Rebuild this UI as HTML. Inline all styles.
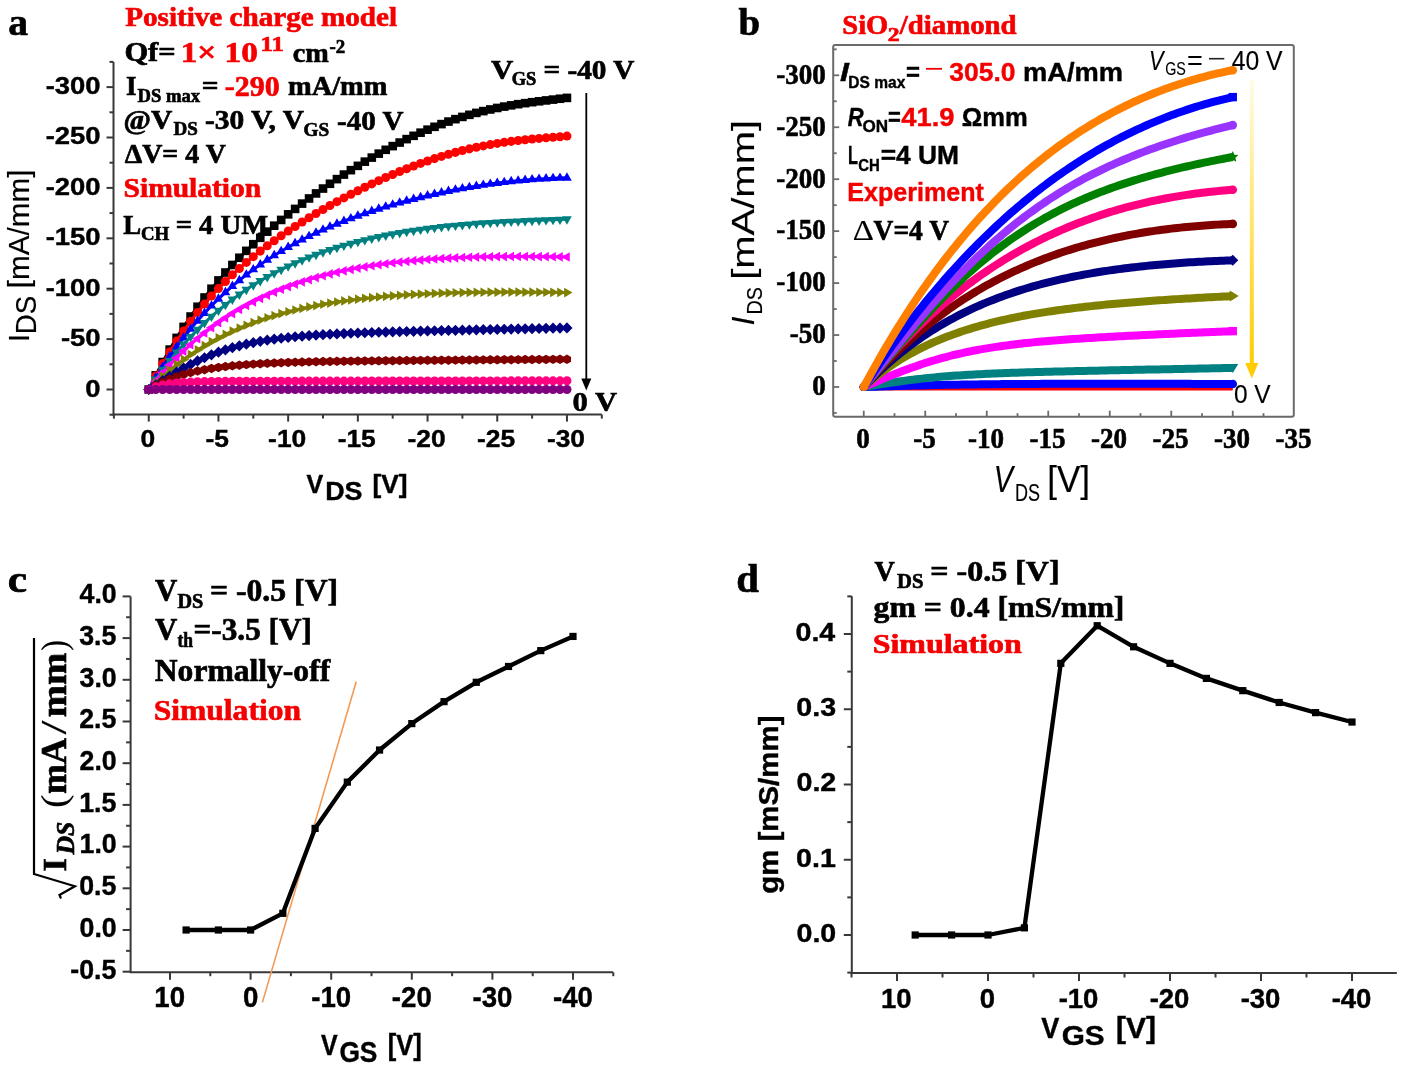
<!DOCTYPE html><html><head><meta charset="utf-8"><style>html,body{margin:0;padding:0;background:#fff;overflow:hidden;}svg{display:block;filter:blur(0.7px);}</style></head><body>
<svg width="1402" height="1070" viewBox="0 0 1402 1070">
<rect width="100%" height="100%" fill="#fff"/>
<defs>
<rect id="mSq" x="-4.30" y="-4.30" width="8.60" height="8.60"/>
<circle id="mCi" r="4.51"/>
<polygon id="mTu" points="0.00,-5.59 4.84,2.79 -4.84,2.79"/>
<polygon id="mTd" points="0.00,5.59 -4.84,-2.80 4.84,-2.80"/>
<polygon id="mTl" points="-5.59,0.00 2.80,-4.84 2.79,4.84"/>
<polygon id="mTr" points="5.59,0.00 -2.79,4.84 -2.80,-4.84"/>
<polygon id="mDi" points="0,-5.59 5.59,0 0,5.59 -5.59,0"/>
<polygon id="mHx" points="4.10,2.36 0.00,4.73 -4.10,2.36 -4.10,-2.37 -0.00,-4.73 4.10,-2.37"/>
<rect id="mS2" x="-3.6" y="-3.6" width="7.2" height="7.2"/>
<linearGradient id="gold" x1="0" y1="0" x2="0" y2="1"><stop offset="0" stop-color="#fffbe8"/><stop offset="0.35" stop-color="#ffec90"/><stop offset="1" stop-color="#ffcc00"/></linearGradient>
</defs>
<g stroke="#383838" stroke-width="2" fill="none">
<path d="M113.5,62 V414.6 H601.8"/>
<path d="M113.50,414.70 h-4.00"/>
<path d="M113.50,389.50 h-7.00"/>
<path d="M113.50,364.30 h-4.00"/>
<path d="M113.50,339.10 h-7.00"/>
<path d="M113.50,313.90 h-4.00"/>
<path d="M113.50,288.70 h-7.00"/>
<path d="M113.50,263.50 h-4.00"/>
<path d="M113.50,238.30 h-7.00"/>
<path d="M113.50,213.10 h-4.00"/>
<path d="M113.50,187.90 h-7.00"/>
<path d="M113.50,162.70 h-4.00"/>
<path d="M113.50,137.50 h-7.00"/>
<path d="M113.50,112.30 h-4.00"/>
<path d="M113.50,87.10 h-7.00"/>
<path d="M113.50,61.90 h-4.00"/>
<path d="M113.90,414.60 v4.00"/>
<path d="M148.75,414.60 v7.00"/>
<path d="M183.60,414.60 v4.00"/>
<path d="M218.45,414.60 v7.00"/>
<path d="M253.30,414.60 v4.00"/>
<path d="M288.15,414.60 v7.00"/>
<path d="M323.00,414.60 v4.00"/>
<path d="M357.85,414.60 v7.00"/>
<path d="M392.70,414.60 v4.00"/>
<path d="M427.55,414.60 v7.00"/>
<path d="M462.40,414.60 v4.00"/>
<path d="M497.25,414.60 v7.00"/>
<path d="M532.10,414.60 v4.00"/>
<path d="M566.95,414.60 v7.00"/>
<path d="M601.80,414.60 v4.00"/>
</g>
<polyline points="148.75,389.50 155.72,375.32 162.69,362.04 169.66,349.58 176.63,337.88 183.60,326.88 190.57,316.52 197.54,306.74 204.51,297.50 211.48,288.74 218.45,280.43 225.42,272.52 232.39,264.97 239.36,257.76 246.33,250.85 253.30,244.21 260.27,237.82 267.24,231.66 274.21,225.70 281.18,219.93 288.15,214.33 295.12,208.90 302.09,203.61 309.06,198.46 316.03,193.44 323.00,188.55 329.97,183.77 336.94,179.12 343.91,174.58 350.88,170.16 357.85,165.85 364.82,161.66 371.79,157.59 378.76,153.64 385.73,149.81 392.70,146.11 399.67,142.55 406.64,139.12 413.61,135.82 420.58,132.67 427.55,129.67 434.52,126.81 441.49,124.11 448.46,121.56 455.43,119.16 462.40,116.92 469.37,114.83 476.34,112.89 483.31,111.11 490.28,109.46 497.25,107.96 504.22,106.59 511.19,105.34 518.16,104.19 525.13,103.15 532.10,102.19 539.07,101.29 546.04,100.43 553.01,99.60 559.98,98.76 566.95,97.89" fill="none" stroke="#000000" stroke-width="3"/>
<g fill="#000000">
<use href="#mSq" x="148.75" y="389.50"/>
<use href="#mSq" x="155.72" y="375.32"/>
<use href="#mSq" x="162.69" y="362.04"/>
<use href="#mSq" x="169.66" y="349.58"/>
<use href="#mSq" x="176.63" y="337.88"/>
<use href="#mSq" x="183.60" y="326.88"/>
<use href="#mSq" x="190.57" y="316.52"/>
<use href="#mSq" x="197.54" y="306.74"/>
<use href="#mSq" x="204.51" y="297.50"/>
<use href="#mSq" x="211.48" y="288.74"/>
<use href="#mSq" x="218.45" y="280.43"/>
<use href="#mSq" x="225.42" y="272.52"/>
<use href="#mSq" x="232.39" y="264.97"/>
<use href="#mSq" x="239.36" y="257.76"/>
<use href="#mSq" x="246.33" y="250.85"/>
<use href="#mSq" x="253.30" y="244.21"/>
<use href="#mSq" x="260.27" y="237.82"/>
<use href="#mSq" x="267.24" y="231.66"/>
<use href="#mSq" x="274.21" y="225.70"/>
<use href="#mSq" x="281.18" y="219.93"/>
<use href="#mSq" x="288.15" y="214.33"/>
<use href="#mSq" x="295.12" y="208.90"/>
<use href="#mSq" x="302.09" y="203.61"/>
<use href="#mSq" x="309.06" y="198.46"/>
<use href="#mSq" x="316.03" y="193.44"/>
<use href="#mSq" x="323.00" y="188.55"/>
<use href="#mSq" x="329.97" y="183.77"/>
<use href="#mSq" x="336.94" y="179.12"/>
<use href="#mSq" x="343.91" y="174.58"/>
<use href="#mSq" x="350.88" y="170.16"/>
<use href="#mSq" x="357.85" y="165.85"/>
<use href="#mSq" x="364.82" y="161.66"/>
<use href="#mSq" x="371.79" y="157.59"/>
<use href="#mSq" x="378.76" y="153.64"/>
<use href="#mSq" x="385.73" y="149.81"/>
<use href="#mSq" x="392.70" y="146.11"/>
<use href="#mSq" x="399.67" y="142.55"/>
<use href="#mSq" x="406.64" y="139.12"/>
<use href="#mSq" x="413.61" y="135.82"/>
<use href="#mSq" x="420.58" y="132.67"/>
<use href="#mSq" x="427.55" y="129.67"/>
<use href="#mSq" x="434.52" y="126.81"/>
<use href="#mSq" x="441.49" y="124.11"/>
<use href="#mSq" x="448.46" y="121.56"/>
<use href="#mSq" x="455.43" y="119.16"/>
<use href="#mSq" x="462.40" y="116.92"/>
<use href="#mSq" x="469.37" y="114.83"/>
<use href="#mSq" x="476.34" y="112.89"/>
<use href="#mSq" x="483.31" y="111.11"/>
<use href="#mSq" x="490.28" y="109.46"/>
<use href="#mSq" x="497.25" y="107.96"/>
<use href="#mSq" x="504.22" y="106.59"/>
<use href="#mSq" x="511.19" y="105.34"/>
<use href="#mSq" x="518.16" y="104.19"/>
<use href="#mSq" x="525.13" y="103.15"/>
<use href="#mSq" x="532.10" y="102.19"/>
<use href="#mSq" x="539.07" y="101.29"/>
<use href="#mSq" x="546.04" y="100.43"/>
<use href="#mSq" x="553.01" y="99.60"/>
<use href="#mSq" x="559.98" y="98.76"/>
<use href="#mSq" x="566.95" y="97.89"/>
</g>
<polyline points="148.75,389.50 155.72,376.11 162.69,363.63 169.66,351.97 176.63,341.08 183.60,330.89 190.57,321.35 197.54,312.40 204.51,303.98 211.48,296.06 218.45,288.59 225.42,281.52 232.39,274.83 239.36,268.47 246.33,262.42 253.30,256.64 260.27,251.12 267.24,245.82 274.21,240.72 281.18,235.81 288.15,231.07 295.12,226.49 302.09,222.05 309.06,217.74 316.03,213.55 323.00,209.48 329.97,205.52 336.94,201.66 343.91,197.91 350.88,194.26 357.85,190.71 364.82,187.25 371.79,183.90 378.76,180.65 385.73,177.50 392.70,174.46 399.67,171.53 406.64,168.71 413.61,166.01 420.58,163.42 427.55,160.96 434.52,158.62 441.49,156.41 448.46,154.33 455.43,152.38 462.40,150.56 469.37,148.87 476.34,147.31 483.31,145.89 490.28,144.58 497.25,143.40 504.22,142.33 511.19,141.37 518.16,140.51 525.13,139.74 532.10,139.05 539.07,138.41 546.04,137.82 553.01,137.25 559.98,136.69 566.95,136.11" fill="none" stroke="#ff0000" stroke-width="3"/>
<g fill="#ff0000">
<use href="#mCi" x="148.75" y="389.50"/>
<use href="#mCi" x="155.72" y="376.11"/>
<use href="#mCi" x="162.69" y="363.63"/>
<use href="#mCi" x="169.66" y="351.97"/>
<use href="#mCi" x="176.63" y="341.08"/>
<use href="#mCi" x="183.60" y="330.89"/>
<use href="#mCi" x="190.57" y="321.35"/>
<use href="#mCi" x="197.54" y="312.40"/>
<use href="#mCi" x="204.51" y="303.98"/>
<use href="#mCi" x="211.48" y="296.06"/>
<use href="#mCi" x="218.45" y="288.59"/>
<use href="#mCi" x="225.42" y="281.52"/>
<use href="#mCi" x="232.39" y="274.83"/>
<use href="#mCi" x="239.36" y="268.47"/>
<use href="#mCi" x="246.33" y="262.42"/>
<use href="#mCi" x="253.30" y="256.64"/>
<use href="#mCi" x="260.27" y="251.12"/>
<use href="#mCi" x="267.24" y="245.82"/>
<use href="#mCi" x="274.21" y="240.72"/>
<use href="#mCi" x="281.18" y="235.81"/>
<use href="#mCi" x="288.15" y="231.07"/>
<use href="#mCi" x="295.12" y="226.49"/>
<use href="#mCi" x="302.09" y="222.05"/>
<use href="#mCi" x="309.06" y="217.74"/>
<use href="#mCi" x="316.03" y="213.55"/>
<use href="#mCi" x="323.00" y="209.48"/>
<use href="#mCi" x="329.97" y="205.52"/>
<use href="#mCi" x="336.94" y="201.66"/>
<use href="#mCi" x="343.91" y="197.91"/>
<use href="#mCi" x="350.88" y="194.26"/>
<use href="#mCi" x="357.85" y="190.71"/>
<use href="#mCi" x="364.82" y="187.25"/>
<use href="#mCi" x="371.79" y="183.90"/>
<use href="#mCi" x="378.76" y="180.65"/>
<use href="#mCi" x="385.73" y="177.50"/>
<use href="#mCi" x="392.70" y="174.46"/>
<use href="#mCi" x="399.67" y="171.53"/>
<use href="#mCi" x="406.64" y="168.71"/>
<use href="#mCi" x="413.61" y="166.01"/>
<use href="#mCi" x="420.58" y="163.42"/>
<use href="#mCi" x="427.55" y="160.96"/>
<use href="#mCi" x="434.52" y="158.62"/>
<use href="#mCi" x="441.49" y="156.41"/>
<use href="#mCi" x="448.46" y="154.33"/>
<use href="#mCi" x="455.43" y="152.38"/>
<use href="#mCi" x="462.40" y="150.56"/>
<use href="#mCi" x="469.37" y="148.87"/>
<use href="#mCi" x="476.34" y="147.31"/>
<use href="#mCi" x="483.31" y="145.89"/>
<use href="#mCi" x="490.28" y="144.58"/>
<use href="#mCi" x="497.25" y="143.40"/>
<use href="#mCi" x="504.22" y="142.33"/>
<use href="#mCi" x="511.19" y="141.37"/>
<use href="#mCi" x="518.16" y="140.51"/>
<use href="#mCi" x="525.13" y="139.74"/>
<use href="#mCi" x="532.10" y="139.05"/>
<use href="#mCi" x="539.07" y="138.41"/>
<use href="#mCi" x="546.04" y="137.82"/>
<use href="#mCi" x="553.01" y="137.25"/>
<use href="#mCi" x="559.98" y="136.69"/>
<use href="#mCi" x="566.95" y="136.11"/>
</g>
<polyline points="148.75,389.50 155.72,377.92 162.69,366.99 169.66,356.67 176.63,346.93 183.60,337.74 190.57,329.05 197.54,320.85 204.51,313.11 211.48,305.80 218.45,298.89 225.42,292.36 232.39,286.18 239.36,280.34 246.33,274.82 253.30,269.58 260.27,264.62 267.24,259.92 274.21,255.46 281.18,251.23 288.15,247.20 295.12,243.37 302.09,239.73 309.06,236.25 316.03,232.94 323.00,229.78 329.97,226.76 336.94,223.88 343.91,221.11 350.88,218.47 357.85,215.94 364.82,213.51 371.79,211.18 378.76,208.95 385.73,206.81 392.70,204.76 399.67,202.79 406.64,200.90 413.61,199.09 420.58,197.35 427.55,195.70 434.52,194.11 441.49,192.60 448.46,191.16 455.43,189.80 462.40,188.50 469.37,187.28 476.34,186.13 483.31,185.05 490.28,184.04 497.25,183.11 504.22,182.25 511.19,181.46 518.16,180.75 525.13,180.11 532.10,179.55 539.07,179.06 546.04,178.64 553.01,178.30 559.98,178.03 566.95,177.84" fill="none" stroke="#0000ff" stroke-width="3"/>
<g fill="#0000ff">
<use href="#mTu" x="148.75" y="389.50"/>
<use href="#mTu" x="155.72" y="377.92"/>
<use href="#mTu" x="162.69" y="366.99"/>
<use href="#mTu" x="169.66" y="356.67"/>
<use href="#mTu" x="176.63" y="346.93"/>
<use href="#mTu" x="183.60" y="337.74"/>
<use href="#mTu" x="190.57" y="329.05"/>
<use href="#mTu" x="197.54" y="320.85"/>
<use href="#mTu" x="204.51" y="313.11"/>
<use href="#mTu" x="211.48" y="305.80"/>
<use href="#mTu" x="218.45" y="298.89"/>
<use href="#mTu" x="225.42" y="292.36"/>
<use href="#mTu" x="232.39" y="286.18"/>
<use href="#mTu" x="239.36" y="280.34"/>
<use href="#mTu" x="246.33" y="274.82"/>
<use href="#mTu" x="253.30" y="269.58"/>
<use href="#mTu" x="260.27" y="264.62"/>
<use href="#mTu" x="267.24" y="259.92"/>
<use href="#mTu" x="274.21" y="255.46"/>
<use href="#mTu" x="281.18" y="251.23"/>
<use href="#mTu" x="288.15" y="247.20"/>
<use href="#mTu" x="295.12" y="243.37"/>
<use href="#mTu" x="302.09" y="239.73"/>
<use href="#mTu" x="309.06" y="236.25"/>
<use href="#mTu" x="316.03" y="232.94"/>
<use href="#mTu" x="323.00" y="229.78"/>
<use href="#mTu" x="329.97" y="226.76"/>
<use href="#mTu" x="336.94" y="223.88"/>
<use href="#mTu" x="343.91" y="221.11"/>
<use href="#mTu" x="350.88" y="218.47"/>
<use href="#mTu" x="357.85" y="215.94"/>
<use href="#mTu" x="364.82" y="213.51"/>
<use href="#mTu" x="371.79" y="211.18"/>
<use href="#mTu" x="378.76" y="208.95"/>
<use href="#mTu" x="385.73" y="206.81"/>
<use href="#mTu" x="392.70" y="204.76"/>
<use href="#mTu" x="399.67" y="202.79"/>
<use href="#mTu" x="406.64" y="200.90"/>
<use href="#mTu" x="413.61" y="199.09"/>
<use href="#mTu" x="420.58" y="197.35"/>
<use href="#mTu" x="427.55" y="195.70"/>
<use href="#mTu" x="434.52" y="194.11"/>
<use href="#mTu" x="441.49" y="192.60"/>
<use href="#mTu" x="448.46" y="191.16"/>
<use href="#mTu" x="455.43" y="189.80"/>
<use href="#mTu" x="462.40" y="188.50"/>
<use href="#mTu" x="469.37" y="187.28"/>
<use href="#mTu" x="476.34" y="186.13"/>
<use href="#mTu" x="483.31" y="185.05"/>
<use href="#mTu" x="490.28" y="184.04"/>
<use href="#mTu" x="497.25" y="183.11"/>
<use href="#mTu" x="504.22" y="182.25"/>
<use href="#mTu" x="511.19" y="181.46"/>
<use href="#mTu" x="518.16" y="180.75"/>
<use href="#mTu" x="525.13" y="180.11"/>
<use href="#mTu" x="532.10" y="179.55"/>
<use href="#mTu" x="539.07" y="179.06"/>
<use href="#mTu" x="546.04" y="178.64"/>
<use href="#mTu" x="553.01" y="178.30"/>
<use href="#mTu" x="559.98" y="178.03"/>
<use href="#mTu" x="566.95" y="177.84"/>
</g>
<polyline points="148.75,389.50 155.72,379.41 162.69,369.88 169.66,360.88 176.63,352.37 183.60,344.34 190.57,336.76 197.54,329.60 204.51,322.84 211.48,316.47 218.45,310.45 225.42,304.77 232.39,299.42 239.36,294.37 246.33,289.61 253.30,285.11 260.27,280.87 267.24,276.88 274.21,273.11 281.18,269.56 288.15,266.21 295.12,263.05 302.09,260.07 309.06,257.27 316.03,254.63 323.00,252.13 329.97,249.79 336.94,247.58 343.91,245.50 350.88,243.54 357.85,241.70 364.82,239.97 371.79,238.35 378.76,236.83 385.73,235.40 392.70,234.06 399.67,232.80 406.64,231.63 413.61,230.54 420.58,229.52 427.55,228.58 434.52,227.70 441.49,226.88 448.46,226.13 455.43,225.43 462.40,224.79 469.37,224.20 476.34,223.65 483.31,223.16 490.28,222.70 497.25,222.28 504.22,221.89 511.19,221.53 518.16,221.20 525.13,220.89 532.10,220.60 539.07,220.31 546.04,220.03 553.01,219.75 559.98,219.47 566.95,219.17" fill="none" stroke="#008080" stroke-width="3"/>
<g fill="#008080">
<use href="#mTd" x="148.75" y="389.50"/>
<use href="#mTd" x="155.72" y="379.41"/>
<use href="#mTd" x="162.69" y="369.88"/>
<use href="#mTd" x="169.66" y="360.88"/>
<use href="#mTd" x="176.63" y="352.37"/>
<use href="#mTd" x="183.60" y="344.34"/>
<use href="#mTd" x="190.57" y="336.76"/>
<use href="#mTd" x="197.54" y="329.60"/>
<use href="#mTd" x="204.51" y="322.84"/>
<use href="#mTd" x="211.48" y="316.47"/>
<use href="#mTd" x="218.45" y="310.45"/>
<use href="#mTd" x="225.42" y="304.77"/>
<use href="#mTd" x="232.39" y="299.42"/>
<use href="#mTd" x="239.36" y="294.37"/>
<use href="#mTd" x="246.33" y="289.61"/>
<use href="#mTd" x="253.30" y="285.11"/>
<use href="#mTd" x="260.27" y="280.87"/>
<use href="#mTd" x="267.24" y="276.88"/>
<use href="#mTd" x="274.21" y="273.11"/>
<use href="#mTd" x="281.18" y="269.56"/>
<use href="#mTd" x="288.15" y="266.21"/>
<use href="#mTd" x="295.12" y="263.05"/>
<use href="#mTd" x="302.09" y="260.07"/>
<use href="#mTd" x="309.06" y="257.27"/>
<use href="#mTd" x="316.03" y="254.63"/>
<use href="#mTd" x="323.00" y="252.13"/>
<use href="#mTd" x="329.97" y="249.79"/>
<use href="#mTd" x="336.94" y="247.58"/>
<use href="#mTd" x="343.91" y="245.50"/>
<use href="#mTd" x="350.88" y="243.54"/>
<use href="#mTd" x="357.85" y="241.70"/>
<use href="#mTd" x="364.82" y="239.97"/>
<use href="#mTd" x="371.79" y="238.35"/>
<use href="#mTd" x="378.76" y="236.83"/>
<use href="#mTd" x="385.73" y="235.40"/>
<use href="#mTd" x="392.70" y="234.06"/>
<use href="#mTd" x="399.67" y="232.80"/>
<use href="#mTd" x="406.64" y="231.63"/>
<use href="#mTd" x="413.61" y="230.54"/>
<use href="#mTd" x="420.58" y="229.52"/>
<use href="#mTd" x="427.55" y="228.58"/>
<use href="#mTd" x="434.52" y="227.70"/>
<use href="#mTd" x="441.49" y="226.88"/>
<use href="#mTd" x="448.46" y="226.13"/>
<use href="#mTd" x="455.43" y="225.43"/>
<use href="#mTd" x="462.40" y="224.79"/>
<use href="#mTd" x="469.37" y="224.20"/>
<use href="#mTd" x="476.34" y="223.65"/>
<use href="#mTd" x="483.31" y="223.16"/>
<use href="#mTd" x="490.28" y="222.70"/>
<use href="#mTd" x="497.25" y="222.28"/>
<use href="#mTd" x="504.22" y="221.89"/>
<use href="#mTd" x="511.19" y="221.53"/>
<use href="#mTd" x="518.16" y="221.20"/>
<use href="#mTd" x="525.13" y="220.89"/>
<use href="#mTd" x="532.10" y="220.60"/>
<use href="#mTd" x="539.07" y="220.31"/>
<use href="#mTd" x="546.04" y="220.03"/>
<use href="#mTd" x="553.01" y="219.75"/>
<use href="#mTd" x="559.98" y="219.47"/>
<use href="#mTd" x="566.95" y="219.17"/>
</g>
<polyline points="148.75,389.50 155.72,380.88 162.69,372.75 169.66,365.10 176.63,357.89 183.60,351.10 190.57,344.71 197.54,338.69 204.51,333.02 211.48,327.69 218.45,322.68 225.42,317.97 232.39,313.54 239.36,309.38 246.33,305.47 253.30,301.80 260.27,298.36 267.24,295.13 274.21,292.10 281.18,289.27 288.15,286.61 295.12,284.13 302.09,281.80 309.06,279.63 316.03,277.61 323.00,275.72 329.97,273.96 336.94,272.32 343.91,270.79 350.88,269.38 357.85,268.06 364.82,266.85 371.79,265.72 378.76,264.69 385.73,263.73 392.70,262.86 399.67,262.05 406.64,261.32 413.61,260.65 420.58,260.04 427.55,259.50 434.52,259.00 441.49,258.56 448.46,258.17 455.43,257.83 462.40,257.53 469.37,257.27 476.34,257.06 483.31,256.87 490.28,256.73 497.25,256.62 504.22,256.54 511.19,256.49 518.16,256.47 525.13,256.47 532.10,256.50 539.07,256.55 546.04,256.63 553.01,256.73 559.98,256.84 566.95,256.98" fill="none" stroke="#ff00ff" stroke-width="3"/>
<g fill="#ff00ff">
<use href="#mTl" x="148.75" y="389.50"/>
<use href="#mTl" x="155.72" y="380.88"/>
<use href="#mTl" x="162.69" y="372.75"/>
<use href="#mTl" x="169.66" y="365.10"/>
<use href="#mTl" x="176.63" y="357.89"/>
<use href="#mTl" x="183.60" y="351.10"/>
<use href="#mTl" x="190.57" y="344.71"/>
<use href="#mTl" x="197.54" y="338.69"/>
<use href="#mTl" x="204.51" y="333.02"/>
<use href="#mTl" x="211.48" y="327.69"/>
<use href="#mTl" x="218.45" y="322.68"/>
<use href="#mTl" x="225.42" y="317.97"/>
<use href="#mTl" x="232.39" y="313.54"/>
<use href="#mTl" x="239.36" y="309.38"/>
<use href="#mTl" x="246.33" y="305.47"/>
<use href="#mTl" x="253.30" y="301.80"/>
<use href="#mTl" x="260.27" y="298.36"/>
<use href="#mTl" x="267.24" y="295.13"/>
<use href="#mTl" x="274.21" y="292.10"/>
<use href="#mTl" x="281.18" y="289.27"/>
<use href="#mTl" x="288.15" y="286.61"/>
<use href="#mTl" x="295.12" y="284.13"/>
<use href="#mTl" x="302.09" y="281.80"/>
<use href="#mTl" x="309.06" y="279.63"/>
<use href="#mTl" x="316.03" y="277.61"/>
<use href="#mTl" x="323.00" y="275.72"/>
<use href="#mTl" x="329.97" y="273.96"/>
<use href="#mTl" x="336.94" y="272.32"/>
<use href="#mTl" x="343.91" y="270.79"/>
<use href="#mTl" x="350.88" y="269.38"/>
<use href="#mTl" x="357.85" y="268.06"/>
<use href="#mTl" x="364.82" y="266.85"/>
<use href="#mTl" x="371.79" y="265.72"/>
<use href="#mTl" x="378.76" y="264.69"/>
<use href="#mTl" x="385.73" y="263.73"/>
<use href="#mTl" x="392.70" y="262.86"/>
<use href="#mTl" x="399.67" y="262.05"/>
<use href="#mTl" x="406.64" y="261.32"/>
<use href="#mTl" x="413.61" y="260.65"/>
<use href="#mTl" x="420.58" y="260.04"/>
<use href="#mTl" x="427.55" y="259.50"/>
<use href="#mTl" x="434.52" y="259.00"/>
<use href="#mTl" x="441.49" y="258.56"/>
<use href="#mTl" x="448.46" y="258.17"/>
<use href="#mTl" x="455.43" y="257.83"/>
<use href="#mTl" x="462.40" y="257.53"/>
<use href="#mTl" x="469.37" y="257.27"/>
<use href="#mTl" x="476.34" y="257.06"/>
<use href="#mTl" x="483.31" y="256.87"/>
<use href="#mTl" x="490.28" y="256.73"/>
<use href="#mTl" x="497.25" y="256.62"/>
<use href="#mTl" x="504.22" y="256.54"/>
<use href="#mTl" x="511.19" y="256.49"/>
<use href="#mTl" x="518.16" y="256.47"/>
<use href="#mTl" x="525.13" y="256.47"/>
<use href="#mTl" x="532.10" y="256.50"/>
<use href="#mTl" x="539.07" y="256.55"/>
<use href="#mTl" x="546.04" y="256.63"/>
<use href="#mTl" x="553.01" y="256.73"/>
<use href="#mTl" x="559.98" y="256.84"/>
<use href="#mTl" x="566.95" y="256.98"/>
</g>
<polyline points="148.75,389.50 155.72,382.67 162.69,376.27 169.66,370.28 176.63,364.68 183.60,359.44 190.57,354.53 197.54,349.94 204.51,345.65 211.48,341.64 218.45,337.89 225.42,334.39 232.39,331.12 239.36,328.07 246.33,325.22 253.30,322.56 260.27,320.09 267.24,317.78 274.21,315.63 281.18,313.62 288.15,311.76 295.12,310.03 302.09,308.42 309.06,306.93 316.03,305.54 323.00,304.26 329.97,303.07 336.94,301.97 343.91,300.95 350.88,300.02 357.85,299.16 364.82,298.36 371.79,297.64 378.76,296.97 385.73,296.36 392.70,295.81 399.67,295.30 406.64,294.85 413.61,294.44 420.58,294.07 427.55,293.74 434.52,293.44 441.49,293.18 448.46,292.96 455.43,292.76 462.40,292.60 469.37,292.46 476.34,292.34 483.31,292.25 490.28,292.18 497.25,292.13 504.22,292.10 511.19,292.09 518.16,292.10 525.13,292.13 532.10,292.16 539.07,292.22 546.04,292.28 553.01,292.36 559.98,292.45 566.95,292.56" fill="none" stroke="#808000" stroke-width="3"/>
<g fill="#808000">
<use href="#mTr" x="148.75" y="389.50"/>
<use href="#mTr" x="155.72" y="382.67"/>
<use href="#mTr" x="162.69" y="376.27"/>
<use href="#mTr" x="169.66" y="370.28"/>
<use href="#mTr" x="176.63" y="364.68"/>
<use href="#mTr" x="183.60" y="359.44"/>
<use href="#mTr" x="190.57" y="354.53"/>
<use href="#mTr" x="197.54" y="349.94"/>
<use href="#mTr" x="204.51" y="345.65"/>
<use href="#mTr" x="211.48" y="341.64"/>
<use href="#mTr" x="218.45" y="337.89"/>
<use href="#mTr" x="225.42" y="334.39"/>
<use href="#mTr" x="232.39" y="331.12"/>
<use href="#mTr" x="239.36" y="328.07"/>
<use href="#mTr" x="246.33" y="325.22"/>
<use href="#mTr" x="253.30" y="322.56"/>
<use href="#mTr" x="260.27" y="320.09"/>
<use href="#mTr" x="267.24" y="317.78"/>
<use href="#mTr" x="274.21" y="315.63"/>
<use href="#mTr" x="281.18" y="313.62"/>
<use href="#mTr" x="288.15" y="311.76"/>
<use href="#mTr" x="295.12" y="310.03"/>
<use href="#mTr" x="302.09" y="308.42"/>
<use href="#mTr" x="309.06" y="306.93"/>
<use href="#mTr" x="316.03" y="305.54"/>
<use href="#mTr" x="323.00" y="304.26"/>
<use href="#mTr" x="329.97" y="303.07"/>
<use href="#mTr" x="336.94" y="301.97"/>
<use href="#mTr" x="343.91" y="300.95"/>
<use href="#mTr" x="350.88" y="300.02"/>
<use href="#mTr" x="357.85" y="299.16"/>
<use href="#mTr" x="364.82" y="298.36"/>
<use href="#mTr" x="371.79" y="297.64"/>
<use href="#mTr" x="378.76" y="296.97"/>
<use href="#mTr" x="385.73" y="296.36"/>
<use href="#mTr" x="392.70" y="295.81"/>
<use href="#mTr" x="399.67" y="295.30"/>
<use href="#mTr" x="406.64" y="294.85"/>
<use href="#mTr" x="413.61" y="294.44"/>
<use href="#mTr" x="420.58" y="294.07"/>
<use href="#mTr" x="427.55" y="293.74"/>
<use href="#mTr" x="434.52" y="293.44"/>
<use href="#mTr" x="441.49" y="293.18"/>
<use href="#mTr" x="448.46" y="292.96"/>
<use href="#mTr" x="455.43" y="292.76"/>
<use href="#mTr" x="462.40" y="292.60"/>
<use href="#mTr" x="469.37" y="292.46"/>
<use href="#mTr" x="476.34" y="292.34"/>
<use href="#mTr" x="483.31" y="292.25"/>
<use href="#mTr" x="490.28" y="292.18"/>
<use href="#mTr" x="497.25" y="292.13"/>
<use href="#mTr" x="504.22" y="292.10"/>
<use href="#mTr" x="511.19" y="292.09"/>
<use href="#mTr" x="518.16" y="292.10"/>
<use href="#mTr" x="525.13" y="292.13"/>
<use href="#mTr" x="532.10" y="292.16"/>
<use href="#mTr" x="539.07" y="292.22"/>
<use href="#mTr" x="546.04" y="292.28"/>
<use href="#mTr" x="553.01" y="292.36"/>
<use href="#mTr" x="559.98" y="292.45"/>
<use href="#mTr" x="566.95" y="292.56"/>
</g>
<polyline points="148.75,389.50 155.72,385.00 162.69,380.56 169.66,376.24 176.63,372.08 183.60,368.12 190.57,364.40 197.54,360.94 204.51,357.76 211.48,354.84 218.45,352.21 225.42,349.83 232.39,347.71 239.36,345.81 246.33,344.13 253.30,342.65 260.27,341.34 267.24,340.18 274.21,339.16 281.18,338.26 288.15,337.47 295.12,336.77 302.09,336.15 309.06,335.60 316.03,335.10 323.00,334.66 329.97,334.26 336.94,333.90 343.91,333.58 350.88,333.28 357.85,333.00 364.82,332.74 371.79,332.50 378.76,332.27 385.73,332.06 392.70,331.85 399.67,331.66 406.64,331.47 413.61,331.29 420.58,331.12 427.55,330.95 434.52,330.78 441.49,330.62 448.46,330.45 455.43,330.30 462.40,330.14 469.37,329.98 476.34,329.83 483.31,329.68 490.28,329.53 497.25,329.38 504.22,329.23 511.19,329.08 518.16,328.93 525.13,328.79 532.10,328.64 539.07,328.49 546.04,328.34 553.01,328.20 559.98,328.05 566.95,327.91" fill="none" stroke="#000080" stroke-width="3"/>
<g fill="#000080">
<use href="#mDi" x="148.75" y="389.50"/>
<use href="#mDi" x="155.72" y="385.00"/>
<use href="#mDi" x="162.69" y="380.56"/>
<use href="#mDi" x="169.66" y="376.24"/>
<use href="#mDi" x="176.63" y="372.08"/>
<use href="#mDi" x="183.60" y="368.12"/>
<use href="#mDi" x="190.57" y="364.40"/>
<use href="#mDi" x="197.54" y="360.94"/>
<use href="#mDi" x="204.51" y="357.76"/>
<use href="#mDi" x="211.48" y="354.84"/>
<use href="#mDi" x="218.45" y="352.21"/>
<use href="#mDi" x="225.42" y="349.83"/>
<use href="#mDi" x="232.39" y="347.71"/>
<use href="#mDi" x="239.36" y="345.81"/>
<use href="#mDi" x="246.33" y="344.13"/>
<use href="#mDi" x="253.30" y="342.65"/>
<use href="#mDi" x="260.27" y="341.34"/>
<use href="#mDi" x="267.24" y="340.18"/>
<use href="#mDi" x="274.21" y="339.16"/>
<use href="#mDi" x="281.18" y="338.26"/>
<use href="#mDi" x="288.15" y="337.47"/>
<use href="#mDi" x="295.12" y="336.77"/>
<use href="#mDi" x="302.09" y="336.15"/>
<use href="#mDi" x="309.06" y="335.60"/>
<use href="#mDi" x="316.03" y="335.10"/>
<use href="#mDi" x="323.00" y="334.66"/>
<use href="#mDi" x="329.97" y="334.26"/>
<use href="#mDi" x="336.94" y="333.90"/>
<use href="#mDi" x="343.91" y="333.58"/>
<use href="#mDi" x="350.88" y="333.28"/>
<use href="#mDi" x="357.85" y="333.00"/>
<use href="#mDi" x="364.82" y="332.74"/>
<use href="#mDi" x="371.79" y="332.50"/>
<use href="#mDi" x="378.76" y="332.27"/>
<use href="#mDi" x="385.73" y="332.06"/>
<use href="#mDi" x="392.70" y="331.85"/>
<use href="#mDi" x="399.67" y="331.66"/>
<use href="#mDi" x="406.64" y="331.47"/>
<use href="#mDi" x="413.61" y="331.29"/>
<use href="#mDi" x="420.58" y="331.12"/>
<use href="#mDi" x="427.55" y="330.95"/>
<use href="#mDi" x="434.52" y="330.78"/>
<use href="#mDi" x="441.49" y="330.62"/>
<use href="#mDi" x="448.46" y="330.45"/>
<use href="#mDi" x="455.43" y="330.30"/>
<use href="#mDi" x="462.40" y="330.14"/>
<use href="#mDi" x="469.37" y="329.98"/>
<use href="#mDi" x="476.34" y="329.83"/>
<use href="#mDi" x="483.31" y="329.68"/>
<use href="#mDi" x="490.28" y="329.53"/>
<use href="#mDi" x="497.25" y="329.38"/>
<use href="#mDi" x="504.22" y="329.23"/>
<use href="#mDi" x="511.19" y="329.08"/>
<use href="#mDi" x="518.16" y="328.93"/>
<use href="#mDi" x="525.13" y="328.79"/>
<use href="#mDi" x="532.10" y="328.64"/>
<use href="#mDi" x="539.07" y="328.49"/>
<use href="#mDi" x="546.04" y="328.34"/>
<use href="#mDi" x="553.01" y="328.20"/>
<use href="#mDi" x="559.98" y="328.05"/>
<use href="#mDi" x="566.95" y="327.91"/>
</g>
<polyline points="148.75,389.50 155.72,385.51 162.69,382.08 169.66,379.15 176.63,376.63 183.60,374.48 190.57,372.62 197.54,371.03 204.51,369.67 211.48,368.49 218.45,367.48 225.42,366.60 232.39,365.85 239.36,365.20 246.33,364.63 253.30,364.14 260.27,363.72 267.24,363.34 274.21,363.02 281.18,362.73 288.15,362.48 295.12,362.26 302.09,362.06 309.06,361.88 316.03,361.73 323.00,361.58 329.97,361.46 336.94,361.34 343.91,361.23 350.88,361.13 357.85,361.04 364.82,360.95 371.79,360.87 378.76,360.79 385.73,360.72 392.70,360.65 399.67,360.58 406.64,360.52 413.61,360.45 420.58,360.39 427.55,360.33 434.52,360.28 441.49,360.22 448.46,360.16 455.43,360.11 462.40,360.05 469.37,360.00 476.34,359.95 483.31,359.89 490.28,359.84 497.25,359.79 504.22,359.73 511.19,359.68 518.16,359.63 525.13,359.58 532.10,359.53 539.07,359.48 546.04,359.42 553.01,359.37 559.98,359.32 566.95,359.27" fill="none" stroke="#800000" stroke-width="3"/>
<g fill="#800000">
<use href="#mHx" x="148.75" y="389.50"/>
<use href="#mHx" x="155.72" y="385.51"/>
<use href="#mHx" x="162.69" y="382.08"/>
<use href="#mHx" x="169.66" y="379.15"/>
<use href="#mHx" x="176.63" y="376.63"/>
<use href="#mHx" x="183.60" y="374.48"/>
<use href="#mHx" x="190.57" y="372.62"/>
<use href="#mHx" x="197.54" y="371.03"/>
<use href="#mHx" x="204.51" y="369.67"/>
<use href="#mHx" x="211.48" y="368.49"/>
<use href="#mHx" x="218.45" y="367.48"/>
<use href="#mHx" x="225.42" y="366.60"/>
<use href="#mHx" x="232.39" y="365.85"/>
<use href="#mHx" x="239.36" y="365.20"/>
<use href="#mHx" x="246.33" y="364.63"/>
<use href="#mHx" x="253.30" y="364.14"/>
<use href="#mHx" x="260.27" y="363.72"/>
<use href="#mHx" x="267.24" y="363.34"/>
<use href="#mHx" x="274.21" y="363.02"/>
<use href="#mHx" x="281.18" y="362.73"/>
<use href="#mHx" x="288.15" y="362.48"/>
<use href="#mHx" x="295.12" y="362.26"/>
<use href="#mHx" x="302.09" y="362.06"/>
<use href="#mHx" x="309.06" y="361.88"/>
<use href="#mHx" x="316.03" y="361.73"/>
<use href="#mHx" x="323.00" y="361.58"/>
<use href="#mHx" x="329.97" y="361.46"/>
<use href="#mHx" x="336.94" y="361.34"/>
<use href="#mHx" x="343.91" y="361.23"/>
<use href="#mHx" x="350.88" y="361.13"/>
<use href="#mHx" x="357.85" y="361.04"/>
<use href="#mHx" x="364.82" y="360.95"/>
<use href="#mHx" x="371.79" y="360.87"/>
<use href="#mHx" x="378.76" y="360.79"/>
<use href="#mHx" x="385.73" y="360.72"/>
<use href="#mHx" x="392.70" y="360.65"/>
<use href="#mHx" x="399.67" y="360.58"/>
<use href="#mHx" x="406.64" y="360.52"/>
<use href="#mHx" x="413.61" y="360.45"/>
<use href="#mHx" x="420.58" y="360.39"/>
<use href="#mHx" x="427.55" y="360.33"/>
<use href="#mHx" x="434.52" y="360.28"/>
<use href="#mHx" x="441.49" y="360.22"/>
<use href="#mHx" x="448.46" y="360.16"/>
<use href="#mHx" x="455.43" y="360.11"/>
<use href="#mHx" x="462.40" y="360.05"/>
<use href="#mHx" x="469.37" y="360.00"/>
<use href="#mHx" x="476.34" y="359.95"/>
<use href="#mHx" x="483.31" y="359.89"/>
<use href="#mHx" x="490.28" y="359.84"/>
<use href="#mHx" x="497.25" y="359.79"/>
<use href="#mHx" x="504.22" y="359.73"/>
<use href="#mHx" x="511.19" y="359.68"/>
<use href="#mHx" x="518.16" y="359.63"/>
<use href="#mHx" x="525.13" y="359.58"/>
<use href="#mHx" x="532.10" y="359.53"/>
<use href="#mHx" x="539.07" y="359.48"/>
<use href="#mHx" x="546.04" y="359.42"/>
<use href="#mHx" x="553.01" y="359.37"/>
<use href="#mHx" x="559.98" y="359.32"/>
<use href="#mHx" x="566.95" y="359.27"/>
</g>
<polyline points="148.75,389.50 155.72,386.86 162.69,385.07 169.66,383.85 176.63,383.02 183.60,382.45 190.57,382.07 197.54,381.80 204.51,381.62 211.48,381.49 218.45,381.40 225.42,381.34 232.39,381.30 239.36,381.26 246.33,381.24 253.30,381.22 260.27,381.20 267.24,381.19 274.21,381.17 281.18,381.16 288.15,381.15 295.12,381.14 302.09,381.13 309.06,381.13 316.03,381.12 323.00,381.11 329.97,381.10 336.94,381.09 343.91,381.08 350.88,381.07 357.85,381.07 364.82,381.06 371.79,381.05 378.76,381.04 385.73,381.03 392.70,381.02 399.67,381.01 406.64,381.01 413.61,381.00 420.58,380.99 427.55,380.98 434.52,380.97 441.49,380.96 448.46,380.96 455.43,380.95 462.40,380.94 469.37,380.93 476.34,380.92 483.31,380.91 490.28,380.90 497.25,380.90 504.22,380.89 511.19,380.88 518.16,380.87 525.13,380.86 532.10,380.85 539.07,380.85 546.04,380.84 553.01,380.83 559.98,380.82 566.95,380.81" fill="none" stroke="#ff0080" stroke-width="3"/>
<g fill="#ff0080">
<use href="#mCi" x="148.75" y="389.50"/>
<use href="#mCi" x="155.72" y="386.86"/>
<use href="#mCi" x="162.69" y="385.07"/>
<use href="#mCi" x="169.66" y="383.85"/>
<use href="#mCi" x="176.63" y="383.02"/>
<use href="#mCi" x="183.60" y="382.45"/>
<use href="#mCi" x="190.57" y="382.07"/>
<use href="#mCi" x="197.54" y="381.80"/>
<use href="#mCi" x="204.51" y="381.62"/>
<use href="#mCi" x="211.48" y="381.49"/>
<use href="#mCi" x="218.45" y="381.40"/>
<use href="#mCi" x="225.42" y="381.34"/>
<use href="#mCi" x="232.39" y="381.30"/>
<use href="#mCi" x="239.36" y="381.26"/>
<use href="#mCi" x="246.33" y="381.24"/>
<use href="#mCi" x="253.30" y="381.22"/>
<use href="#mCi" x="260.27" y="381.20"/>
<use href="#mCi" x="267.24" y="381.19"/>
<use href="#mCi" x="274.21" y="381.17"/>
<use href="#mCi" x="281.18" y="381.16"/>
<use href="#mCi" x="288.15" y="381.15"/>
<use href="#mCi" x="295.12" y="381.14"/>
<use href="#mCi" x="302.09" y="381.13"/>
<use href="#mCi" x="309.06" y="381.13"/>
<use href="#mCi" x="316.03" y="381.12"/>
<use href="#mCi" x="323.00" y="381.11"/>
<use href="#mCi" x="329.97" y="381.10"/>
<use href="#mCi" x="336.94" y="381.09"/>
<use href="#mCi" x="343.91" y="381.08"/>
<use href="#mCi" x="350.88" y="381.07"/>
<use href="#mCi" x="357.85" y="381.07"/>
<use href="#mCi" x="364.82" y="381.06"/>
<use href="#mCi" x="371.79" y="381.05"/>
<use href="#mCi" x="378.76" y="381.04"/>
<use href="#mCi" x="385.73" y="381.03"/>
<use href="#mCi" x="392.70" y="381.02"/>
<use href="#mCi" x="399.67" y="381.01"/>
<use href="#mCi" x="406.64" y="381.01"/>
<use href="#mCi" x="413.61" y="381.00"/>
<use href="#mCi" x="420.58" y="380.99"/>
<use href="#mCi" x="427.55" y="380.98"/>
<use href="#mCi" x="434.52" y="380.97"/>
<use href="#mCi" x="441.49" y="380.96"/>
<use href="#mCi" x="448.46" y="380.96"/>
<use href="#mCi" x="455.43" y="380.95"/>
<use href="#mCi" x="462.40" y="380.94"/>
<use href="#mCi" x="469.37" y="380.93"/>
<use href="#mCi" x="476.34" y="380.92"/>
<use href="#mCi" x="483.31" y="380.91"/>
<use href="#mCi" x="490.28" y="380.90"/>
<use href="#mCi" x="497.25" y="380.90"/>
<use href="#mCi" x="504.22" y="380.89"/>
<use href="#mCi" x="511.19" y="380.88"/>
<use href="#mCi" x="518.16" y="380.87"/>
<use href="#mCi" x="525.13" y="380.86"/>
<use href="#mCi" x="532.10" y="380.85"/>
<use href="#mCi" x="539.07" y="380.85"/>
<use href="#mCi" x="546.04" y="380.84"/>
<use href="#mCi" x="553.01" y="380.83"/>
<use href="#mCi" x="559.98" y="380.82"/>
<use href="#mCi" x="566.95" y="380.81"/>
</g>
<polyline points="148.75,389.50 155.72,389.50 162.69,389.50 169.66,389.50 176.63,389.50 183.60,389.50 190.57,389.50 197.54,389.50 204.51,389.50 211.48,389.50 218.45,389.50 225.42,389.50 232.39,389.50 239.36,389.50 246.33,389.50 253.30,389.50 260.27,389.50 267.24,389.50 274.21,389.50 281.18,389.50 288.15,389.50 295.12,389.50 302.09,389.50 309.06,389.50 316.03,389.50 323.00,389.50 329.97,389.50 336.94,389.50 343.91,389.50 350.88,389.50 357.85,389.50 364.82,389.50 371.79,389.50 378.76,389.50 385.73,389.50 392.70,389.50 399.67,389.50 406.64,389.50 413.61,389.50 420.58,389.50 427.55,389.50 434.52,389.50 441.49,389.50 448.46,389.50 455.43,389.50 462.40,389.50 469.37,389.50 476.34,389.50 483.31,389.50 490.28,389.50 497.25,389.50 504.22,389.50 511.19,389.50 518.16,389.50 525.13,389.50 532.10,389.50 539.07,389.50 546.04,389.50 553.01,389.50 559.98,389.50 566.95,389.50" fill="none" stroke="#800080" stroke-width="3"/>
<g fill="#800080">
<use href="#mCi" x="148.75" y="389.50"/>
<use href="#mCi" x="155.72" y="389.50"/>
<use href="#mCi" x="162.69" y="389.50"/>
<use href="#mCi" x="169.66" y="389.50"/>
<use href="#mCi" x="176.63" y="389.50"/>
<use href="#mCi" x="183.60" y="389.50"/>
<use href="#mCi" x="190.57" y="389.50"/>
<use href="#mCi" x="197.54" y="389.50"/>
<use href="#mCi" x="204.51" y="389.50"/>
<use href="#mCi" x="211.48" y="389.50"/>
<use href="#mCi" x="218.45" y="389.50"/>
<use href="#mCi" x="225.42" y="389.50"/>
<use href="#mCi" x="232.39" y="389.50"/>
<use href="#mCi" x="239.36" y="389.50"/>
<use href="#mCi" x="246.33" y="389.50"/>
<use href="#mCi" x="253.30" y="389.50"/>
<use href="#mCi" x="260.27" y="389.50"/>
<use href="#mCi" x="267.24" y="389.50"/>
<use href="#mCi" x="274.21" y="389.50"/>
<use href="#mCi" x="281.18" y="389.50"/>
<use href="#mCi" x="288.15" y="389.50"/>
<use href="#mCi" x="295.12" y="389.50"/>
<use href="#mCi" x="302.09" y="389.50"/>
<use href="#mCi" x="309.06" y="389.50"/>
<use href="#mCi" x="316.03" y="389.50"/>
<use href="#mCi" x="323.00" y="389.50"/>
<use href="#mCi" x="329.97" y="389.50"/>
<use href="#mCi" x="336.94" y="389.50"/>
<use href="#mCi" x="343.91" y="389.50"/>
<use href="#mCi" x="350.88" y="389.50"/>
<use href="#mCi" x="357.85" y="389.50"/>
<use href="#mCi" x="364.82" y="389.50"/>
<use href="#mCi" x="371.79" y="389.50"/>
<use href="#mCi" x="378.76" y="389.50"/>
<use href="#mCi" x="385.73" y="389.50"/>
<use href="#mCi" x="392.70" y="389.50"/>
<use href="#mCi" x="399.67" y="389.50"/>
<use href="#mCi" x="406.64" y="389.50"/>
<use href="#mCi" x="413.61" y="389.50"/>
<use href="#mCi" x="420.58" y="389.50"/>
<use href="#mCi" x="427.55" y="389.50"/>
<use href="#mCi" x="434.52" y="389.50"/>
<use href="#mCi" x="441.49" y="389.50"/>
<use href="#mCi" x="448.46" y="389.50"/>
<use href="#mCi" x="455.43" y="389.50"/>
<use href="#mCi" x="462.40" y="389.50"/>
<use href="#mCi" x="469.37" y="389.50"/>
<use href="#mCi" x="476.34" y="389.50"/>
<use href="#mCi" x="483.31" y="389.50"/>
<use href="#mCi" x="490.28" y="389.50"/>
<use href="#mCi" x="497.25" y="389.50"/>
<use href="#mCi" x="504.22" y="389.50"/>
<use href="#mCi" x="511.19" y="389.50"/>
<use href="#mCi" x="518.16" y="389.50"/>
<use href="#mCi" x="525.13" y="389.50"/>
<use href="#mCi" x="532.10" y="389.50"/>
<use href="#mCi" x="539.07" y="389.50"/>
<use href="#mCi" x="546.04" y="389.50"/>
<use href="#mCi" x="553.01" y="389.50"/>
<use href="#mCi" x="559.98" y="389.50"/>
<use href="#mCi" x="566.95" y="389.50"/>
</g>
<path d="M586.3,93 V382" stroke="#000" stroke-width="1.8"/>
<path d="M581.3,378.5 L586.3,390.5 L591.3,378.5 Z" fill="#000"/>
<g transform="translate(8.13,35.00) scale(1.0188,1)"><text x="0" y="0" font-family="'Liberation Serif', serif" font-weight="bold" font-style="normal" font-size="39.00" fill="#000" stroke="#000" stroke-width="0.65" xml:space="preserve">a</text></g>
<g transform="translate(125.20,25.70) scale(1.1000,1)"><text x="0" y="0" font-family="'Liberation Serif', serif" font-weight="bold" font-style="normal" font-size="26.50" fill="#f50000" stroke="#f50000" stroke-width="0.65" xml:space="preserve">Positive charge model</text></g>
<g transform="translate(124.41,61.00) scale(1.1091,1)"><text x="0" y="0" font-family="'Liberation Serif', serif" font-weight="bold" font-style="normal" font-size="27.50" fill="#000" stroke="#000" stroke-width="0.65" xml:space="preserve">Qf=</text></g>
<g transform="translate(180.64,61.50) scale(1.1479,1)"><text x="0" y="0" font-family="'Liberation Serif', serif" font-weight="bold" font-style="normal" font-size="29.00" fill="#f50000" stroke="#f50000" stroke-width="0.65" xml:space="preserve">1× 10</text></g>
<g transform="translate(260.42,51.00) scale(1.2060,1)"><text x="0" y="0" font-family="'Liberation Serif', serif" font-weight="bold" font-style="normal" font-size="20.50" fill="#f50000" stroke="#f50000" stroke-width="0.65" xml:space="preserve">11</text></g>
<g transform="translate(292.84,61.50) scale(1.0262,1)"><text x="0" y="0" font-family="'Liberation Serif', serif" font-weight="bold" font-style="normal" font-size="27.50" fill="#000" stroke="#000" stroke-width="0.65" xml:space="preserve">cm</text></g>
<g transform="translate(329.50,53.00) scale(0.9925,1)"><text x="0" y="0" font-family="'Liberation Serif', serif" font-weight="bold" font-style="normal" font-size="19.00" fill="#000" stroke="#000" stroke-width="0.65" xml:space="preserve">-2</text></g>
<g transform="translate(125.98,95.20) scale(0.9856,1)"><text x="0" y="0" font-family="'Liberation Serif', serif" font-weight="bold" font-style="normal" font-size="27.50" fill="#000" stroke="#000" stroke-width="0.65" xml:space="preserve">I</text></g>
<g transform="translate(137.46,102.00) scale(0.9721,1)"><text x="0" y="0" font-family="'Liberation Serif', serif" font-weight="bold" font-style="normal" font-size="19.20" fill="#000" stroke="#000" stroke-width="0.65" xml:space="preserve">DS max</text></g>
<g transform="translate(201.83,95.00) scale(1.0714,1)"><text x="0" y="0" font-family="'Liberation Serif', serif" font-weight="bold" font-style="normal" font-size="27.50" fill="#000" stroke="#000" stroke-width="0.65" xml:space="preserve">=</text></g>
<g transform="translate(224.79,95.50) scale(1.0317,1)"><text x="0" y="0" font-family="'Liberation Serif', serif" font-weight="bold" font-style="normal" font-size="29.00" fill="#f50000" stroke="#f50000" stroke-width="0.65" xml:space="preserve">-290</text></g>
<g transform="translate(288.03,95.00) scale(1.0335,1)"><text x="0" y="0" font-family="'Liberation Serif', serif" font-weight="bold" font-style="normal" font-size="27.50" fill="#000" stroke="#000" stroke-width="0.65" xml:space="preserve">mA/mm</text></g>
<g transform="translate(123.57,128.90) scale(1.0932,1)"><text x="0" y="0" font-family="'Liberation Serif', serif" font-weight="bold" font-style="normal" font-size="27.00" fill="#000" stroke="#000" stroke-width="0.65" xml:space="preserve">@V</text></g>
<g transform="translate(173.56,135.30) scale(0.9768,1)"><text x="0" y="0" font-family="'Liberation Serif', serif" font-weight="bold" font-style="normal" font-size="19.50" fill="#000" stroke="#000" stroke-width="0.65" xml:space="preserve">DS</text></g>
<g transform="translate(204.91,128.90) scale(1.0908,1)"><text x="0" y="0" font-family="'Liberation Serif', serif" font-weight="bold" font-style="normal" font-size="27.00" fill="#000" stroke="#000" stroke-width="0.65" xml:space="preserve">-30 V, V</text></g>
<g transform="translate(303.46,135.50) scale(0.9860,1)"><text x="0" y="0" font-family="'Liberation Serif', serif" font-weight="bold" font-style="normal" font-size="19.50" fill="#000" stroke="#000" stroke-width="0.65" xml:space="preserve">GS</text></g>
<g transform="translate(337.02,129.50) scale(1.0384,1)"><text x="0" y="0" font-family="'Liberation Serif', serif" font-weight="bold" font-style="normal" font-size="28.00" fill="#000" stroke="#000" stroke-width="0.65" xml:space="preserve">-40 V</text></g>
<g transform="translate(124.71,163.00) scale(1.0345,1)"><text x="0" y="0" font-family="'Liberation Serif', serif" font-weight="bold" font-style="normal" font-size="27.00" fill="#000" stroke="#000" stroke-width="0.65" xml:space="preserve">ΔV= 4 V</text></g>
<g transform="translate(123.54,197.40) scale(1.0926,1)"><text x="0" y="0" font-family="'Liberation Serif', serif" font-weight="bold" font-style="normal" font-size="27.00" fill="#f50000" stroke="#f50000" stroke-width="0.65" xml:space="preserve">Simulation</text></g>
<g transform="translate(123.14,233.70) scale(1.0117,1)"><text x="0" y="0" font-family="'Liberation Serif', serif" font-weight="bold" font-style="normal" font-size="26.50" fill="#000" stroke="#000" stroke-width="0.65" xml:space="preserve">L</text></g>
<g transform="translate(140.88,240.20) scale(1.0178,1)"><text x="0" y="0" font-family="'Liberation Serif', serif" font-weight="bold" font-style="normal" font-size="18.50" fill="#000" stroke="#000" stroke-width="0.65" xml:space="preserve">CH</text></g>
<g transform="translate(175.67,233.70) scale(1.0782,1)"><text x="0" y="0" font-family="'Liberation Serif', serif" font-weight="bold" font-style="normal" font-size="26.50" fill="#000" stroke="#000" stroke-width="0.65" xml:space="preserve">= 4 UM</text></g>
<g transform="translate(491.06,79.40) scale(1.1429,1)"><text x="0" y="0" font-family="'Liberation Serif', serif" font-weight="bold" font-style="normal" font-size="27.00" fill="#000" stroke="#000" stroke-width="0.65" xml:space="preserve">V</text></g>
<g transform="translate(511.70,84.90) scale(0.9958,1)"><text x="0" y="0" font-family="'Liberation Serif', serif" font-weight="bold" font-style="normal" font-size="18.50" fill="#000" stroke="#000" stroke-width="0.65" xml:space="preserve">GS</text></g>
<g transform="translate(543.54,79.40) scale(1.0834,1)"><text x="0" y="0" font-family="'Liberation Serif', serif" font-weight="bold" font-style="normal" font-size="27.00" fill="#000" stroke="#000" stroke-width="0.65" xml:space="preserve">= -40 V</text></g>
<g transform="translate(572.54,411.00) scale(1.1309,1)"><text x="0" y="0" font-family="'Liberation Serif', serif" font-weight="bold" font-style="normal" font-size="27.00" fill="#000" stroke="#000" stroke-width="0.65" xml:space="preserve">0 V</text></g>
<g transform="translate(85.37,396.89) scale(1.1580,1)"><text x="0" y="0" font-family="'Liberation Sans', sans-serif" font-weight="bold" font-style="normal" font-size="23.70" fill="#000" stroke="#000" stroke-width="0.40" xml:space="preserve">0</text></g>
<g transform="translate(60.97,346.39) scale(1.1580,1)"><text x="0" y="0" font-family="'Liberation Sans', sans-serif" font-weight="bold" font-style="normal" font-size="23.70" fill="#000" stroke="#000" stroke-width="0.40" xml:space="preserve">-50</text></g>
<g transform="translate(45.71,295.89) scale(1.1580,1)"><text x="0" y="0" font-family="'Liberation Sans', sans-serif" font-weight="bold" font-style="normal" font-size="23.70" fill="#000" stroke="#000" stroke-width="0.40" xml:space="preserve">-100</text></g>
<g transform="translate(45.71,245.39) scale(1.1580,1)"><text x="0" y="0" font-family="'Liberation Sans', sans-serif" font-weight="bold" font-style="normal" font-size="23.70" fill="#000" stroke="#000" stroke-width="0.40" xml:space="preserve">-150</text></g>
<g transform="translate(45.71,194.89) scale(1.1580,1)"><text x="0" y="0" font-family="'Liberation Sans', sans-serif" font-weight="bold" font-style="normal" font-size="23.70" fill="#000" stroke="#000" stroke-width="0.40" xml:space="preserve">-200</text></g>
<g transform="translate(45.71,144.39) scale(1.1580,1)"><text x="0" y="0" font-family="'Liberation Sans', sans-serif" font-weight="bold" font-style="normal" font-size="23.70" fill="#000" stroke="#000" stroke-width="0.40" xml:space="preserve">-250</text></g>
<g transform="translate(45.71,93.89) scale(1.1580,1)"><text x="0" y="0" font-family="'Liberation Sans', sans-serif" font-weight="bold" font-style="normal" font-size="23.70" fill="#000" stroke="#000" stroke-width="0.40" xml:space="preserve">-300</text></g>
<g transform="translate(140.42,446.80) scale(1.1000,1)"><text x="0" y="0" font-family="'Liberation Sans', sans-serif" font-weight="bold" font-style="normal" font-size="24.00" fill="#000" stroke="#000" stroke-width="0.40" xml:space="preserve">0</text></g>
<g transform="translate(205.57,446.80) scale(1.1000,1)"><text x="0" y="0" font-family="'Liberation Sans', sans-serif" font-weight="bold" font-style="normal" font-size="24.00" fill="#000" stroke="#000" stroke-width="0.40" xml:space="preserve">-5</text></g>
<g transform="translate(268.10,446.80) scale(1.1000,1)"><text x="0" y="0" font-family="'Liberation Sans', sans-serif" font-weight="bold" font-style="normal" font-size="24.00" fill="#000" stroke="#000" stroke-width="0.40" xml:space="preserve">-10</text></g>
<g transform="translate(337.63,446.80) scale(1.1000,1)"><text x="0" y="0" font-family="'Liberation Sans', sans-serif" font-weight="bold" font-style="normal" font-size="24.00" fill="#000" stroke="#000" stroke-width="0.40" xml:space="preserve">-15</text></g>
<g transform="translate(407.50,446.80) scale(1.1000,1)"><text x="0" y="0" font-family="'Liberation Sans', sans-serif" font-weight="bold" font-style="normal" font-size="24.00" fill="#000" stroke="#000" stroke-width="0.40" xml:space="preserve">-20</text></g>
<g transform="translate(477.03,446.80) scale(1.1000,1)"><text x="0" y="0" font-family="'Liberation Sans', sans-serif" font-weight="bold" font-style="normal" font-size="24.00" fill="#000" stroke="#000" stroke-width="0.40" xml:space="preserve">-25</text></g>
<g transform="translate(546.90,446.80) scale(1.1000,1)"><text x="0" y="0" font-family="'Liberation Sans', sans-serif" font-weight="bold" font-style="normal" font-size="24.00" fill="#000" stroke="#000" stroke-width="0.40" xml:space="preserve">-30</text></g>
<g transform="translate(306.42,493.10) scale(0.9406,1)"><text x="0" y="0" font-family="'Liberation Sans', sans-serif" font-weight="bold" font-style="normal" font-size="26.70" fill="#000" stroke="#000" stroke-width="0.40" xml:space="preserve">V</text></g>
<g transform="translate(325.20,499.60) scale(1.0382,1)"><text x="0" y="0" font-family="'Liberation Sans', sans-serif" font-weight="bold" font-style="normal" font-size="25.90" fill="#000" stroke="#000" stroke-width="0.40" xml:space="preserve">DS</text></g>
<g transform="translate(372.43,493.10) scale(0.9846,1)"><text x="0" y="0" font-family="'Liberation Sans', sans-serif" font-weight="bold" font-style="normal" font-size="26.70" fill="#000" stroke="#000" stroke-width="0.40" xml:space="preserve">[V]</text></g>
<g transform="translate(28.90,342.26) rotate(-90) scale(1.0000,1)"><text x="0" y="0" font-family="'Liberation Sans', sans-serif" font-weight="normal" font-style="normal" font-size="30.00" fill="#000" stroke="#000" stroke-width="0.15" xml:space="preserve">I</text></g>
<g transform="translate(36.00,334.27) rotate(-90) scale(0.9225,1)"><text x="0" y="0" font-family="'Liberation Sans', sans-serif" font-weight="normal" font-style="normal" font-size="30.00" fill="#000" stroke="#000" stroke-width="0.15" xml:space="preserve">DS</text></g>
<g transform="translate(28.90,288.21) rotate(-90) scale(0.9893,1)"><text x="0" y="0" font-family="'Liberation Sans', sans-serif" font-weight="normal" font-style="normal" font-size="30.00" fill="#000" stroke="#000" stroke-width="0.15" xml:space="preserve">[mA/mm]</text></g>
<g fill="none" stroke-linejoin="round" stroke-linecap="butt">
<polyline points="863.75,388.04 866.83,388.04 869.90,388.04 872.98,388.04 876.05,388.04 879.12,388.04 882.20,388.04 885.27,388.04 888.35,388.04 891.42,388.04 894.50,388.04 897.58,388.04 900.65,388.04 903.73,388.04 906.80,388.04 909.88,388.04 912.95,388.04 916.02,388.04 919.10,388.04 922.17,388.04 925.25,388.04 928.33,388.04 931.40,388.04 934.48,388.04 937.55,388.04 940.62,388.04 943.70,388.04 946.77,388.04 949.85,388.04 952.92,388.04 956.00,388.04 959.08,388.04 962.15,388.04 965.23,388.04 968.30,388.04 971.38,388.04 974.45,388.04 977.52,388.04 980.60,388.04 983.67,388.04 986.75,388.04 989.83,388.04 992.90,388.04 995.98,388.04 999.05,388.04 1002.12,388.04 1005.20,388.04 1008.27,388.04 1011.35,388.04 1014.42,388.04 1017.50,388.04 1020.58,388.04 1023.65,388.04 1026.72,388.04 1029.80,388.04 1032.88,388.04 1035.95,388.04 1039.03,388.04 1042.10,388.04 1045.17,388.04 1048.25,388.04 1051.33,388.04 1054.40,388.04 1057.47,388.04 1060.55,388.04 1063.62,388.04 1066.70,388.04 1069.78,388.04 1072.85,388.04 1075.92,388.04 1079.00,388.04 1082.08,388.04 1085.15,388.04 1088.22,388.04 1091.30,388.04 1094.38,388.04 1097.45,388.04 1100.53,388.04 1103.60,388.04 1106.67,388.04 1109.75,388.04 1112.83,388.04 1115.90,388.04 1118.97,388.04 1122.05,388.04 1125.12,388.04 1128.20,388.04 1131.28,388.04 1134.35,388.04 1137.42,388.04 1140.50,388.04 1143.58,388.04 1146.65,388.04 1149.72,388.04 1152.80,388.04 1155.88,388.04 1158.95,388.04 1162.03,388.04 1165.10,388.04 1168.17,388.04 1171.25,388.04 1174.33,388.04 1177.40,388.04 1180.47,388.04 1183.55,388.04 1186.62,388.04 1189.70,388.04 1192.78,388.04 1195.85,388.04 1198.92,388.04 1202.00,388.04 1205.08,388.04 1208.15,388.04 1211.22,388.04 1214.30,388.04 1217.38,388.04 1220.45,388.04 1223.53,388.04 1226.60,388.04 1229.67,388.04 1232.75,388.04" stroke="#ff0000" stroke-width="5.0"/>
<circle cx="863.75" cy="387.00" r="2.5" fill="#ff0000" stroke="none"/>

<polyline points="863.75,387.00 866.83,386.91 869.90,386.82 872.98,386.73 876.05,386.64 879.12,386.55 882.20,386.46 885.27,386.37 888.35,386.28 891.42,386.20 894.50,386.11 897.58,386.02 900.65,385.94 903.73,385.86 906.80,385.78 909.88,385.70 912.95,385.62 916.02,385.54 919.10,385.47 922.17,385.40 925.25,385.32 928.33,385.25 931.40,385.19 934.48,385.12 937.55,385.06 940.62,384.99 943.70,384.93 946.77,384.87 949.85,384.82 952.92,384.76 956.00,384.71 959.08,384.66 962.15,384.61 965.23,384.56 968.30,384.51 971.38,384.47 974.45,384.43 977.52,384.39 980.60,384.35 983.67,384.31 986.75,384.27 989.83,384.24 992.90,384.21 995.98,384.18 999.05,384.15 1002.12,384.12 1005.20,384.09 1008.27,384.07 1011.35,384.04 1014.42,384.02 1017.50,384.00 1020.58,383.98 1023.65,383.96 1026.72,383.94 1029.80,383.92 1032.88,383.91 1035.95,383.89 1039.03,383.88 1042.10,383.87 1045.17,383.86 1048.25,383.84 1051.33,383.83 1054.40,383.82 1057.47,383.82 1060.55,383.81 1063.62,383.80 1066.70,383.79 1069.78,383.79 1072.85,383.78 1075.92,383.78 1079.00,383.78 1082.08,383.77 1085.15,383.77 1088.22,383.77 1091.30,383.76 1094.38,383.76 1097.45,383.76 1100.53,383.76 1103.60,383.76 1106.67,383.76 1109.75,383.76 1112.83,383.76 1115.90,383.77 1118.97,383.77 1122.05,383.77 1125.12,383.77 1128.20,383.77 1131.28,383.78 1134.35,383.78 1137.42,383.78 1140.50,383.79 1143.58,383.79 1146.65,383.80 1149.72,383.80 1152.80,383.81 1155.88,383.81 1158.95,383.82 1162.03,383.82 1165.10,383.83 1168.17,383.83 1171.25,383.84 1174.33,383.84 1177.40,383.85 1180.47,383.85 1183.55,383.86 1186.62,383.87 1189.70,383.87 1192.78,383.88 1195.85,383.89 1198.92,383.89 1202.00,383.90 1205.08,383.91 1208.15,383.91 1211.22,383.92 1214.30,383.93 1217.38,383.94 1220.45,383.94 1223.53,383.95 1226.60,383.96 1229.67,383.97 1232.75,383.97" stroke="#0000ff" stroke-width="8.0"/>
<circle cx="863.75" cy="387.00" r="4.0" fill="#0000ff" stroke="none"/>
<circle cx="1232.75" cy="383.97" r="4.3" fill="#0000ff"/>
<polyline points="863.75,387.00 866.83,386.50 869.90,386.00 872.98,385.50 876.05,385.00 879.12,384.51 882.20,384.03 885.27,383.55 888.35,383.08 891.42,382.62 894.50,382.17 897.58,381.73 900.65,381.30 903.73,380.88 906.80,380.47 909.88,380.07 912.95,379.69 916.02,379.32 919.10,378.96 922.17,378.62 925.25,378.29 928.33,377.97 931.40,377.66 934.48,377.36 937.55,377.08 940.62,376.81 943.70,376.54 946.77,376.29 949.85,376.05 952.92,375.82 956.00,375.61 959.08,375.39 962.15,375.19 965.23,375.00 968.30,374.81 971.38,374.64 974.45,374.47 977.52,374.30 980.60,374.15 983.67,374.00 986.75,373.85 989.83,373.71 992.90,373.58 995.98,373.45 999.05,373.33 1002.12,373.21 1005.20,373.09 1008.27,372.98 1011.35,372.87 1014.42,372.76 1017.50,372.66 1020.58,372.56 1023.65,372.47 1026.72,372.37 1029.80,372.28 1032.88,372.19 1035.95,372.10 1039.03,372.02 1042.10,371.93 1045.17,371.85 1048.25,371.77 1051.33,371.69 1054.40,371.62 1057.47,371.54 1060.55,371.46 1063.62,371.39 1066.70,371.32 1069.78,371.24 1072.85,371.17 1075.92,371.10 1079.00,371.03 1082.08,370.97 1085.15,370.90 1088.22,370.83 1091.30,370.76 1094.38,370.70 1097.45,370.63 1100.53,370.56 1103.60,370.50 1106.67,370.44 1109.75,370.37 1112.83,370.31 1115.90,370.24 1118.97,370.18 1122.05,370.12 1125.12,370.05 1128.20,369.99 1131.28,369.93 1134.35,369.87 1137.42,369.81 1140.50,369.74 1143.58,369.68 1146.65,369.62 1149.72,369.56 1152.80,369.50 1155.88,369.44 1158.95,369.38 1162.03,369.32 1165.10,369.25 1168.17,369.19 1171.25,369.13 1174.33,369.07 1177.40,369.01 1180.47,368.95 1183.55,368.89 1186.62,368.83 1189.70,368.77 1192.78,368.71 1195.85,368.65 1198.92,368.59 1202.00,368.53 1205.08,368.47 1208.15,368.41 1211.22,368.35 1214.30,368.29 1217.38,368.23 1220.45,368.17 1223.53,368.11 1226.60,368.05 1229.67,367.99 1232.75,367.93" stroke="#008080" stroke-width="8.0"/>
<circle cx="863.75" cy="387.00" r="4.0" fill="#008080" stroke="none"/>
<polygon points="1227.25,363.93 1238.25,363.93 1232.75,372.93" fill="#008080"/>
<polyline points="863.75,387.00 866.83,385.69 869.90,384.37 872.98,383.07 876.05,381.76 879.12,380.47 882.20,379.18 885.27,377.91 888.35,376.65 891.42,375.41 894.50,374.18 897.58,372.97 900.65,371.78 903.73,370.60 906.80,369.46 909.88,368.33 912.95,367.23 916.02,366.15 919.10,365.10 922.17,364.07 925.25,363.07 928.33,362.09 931.40,361.14 934.48,360.22 937.55,359.32 940.62,358.45 943.70,357.61 946.77,356.79 949.85,356.00 952.92,355.23 956.00,354.49 959.08,353.78 962.15,353.09 965.23,352.42 968.30,351.77 971.38,351.15 974.45,350.55 977.52,349.97 980.60,349.41 983.67,348.87 986.75,348.35 989.83,347.84 992.90,347.36 995.98,346.89 999.05,346.44 1002.12,346.01 1005.20,345.59 1008.27,345.18 1011.35,344.79 1014.42,344.41 1017.50,344.04 1020.58,343.69 1023.65,343.35 1026.72,343.02 1029.80,342.70 1032.88,342.39 1035.95,342.09 1039.03,341.80 1042.10,341.52 1045.17,341.24 1048.25,340.98 1051.33,340.72 1054.40,340.47 1057.47,340.22 1060.55,339.98 1063.62,339.75 1066.70,339.52 1069.78,339.30 1072.85,339.09 1075.92,338.88 1079.00,338.67 1082.08,338.47 1085.15,338.27 1088.22,338.08 1091.30,337.89 1094.38,337.70 1097.45,337.52 1100.53,337.34 1103.60,337.16 1106.67,336.99 1109.75,336.82 1112.83,336.65 1115.90,336.48 1118.97,336.32 1122.05,336.16 1125.12,336.00 1128.20,335.84 1131.28,335.68 1134.35,335.53 1137.42,335.38 1140.50,335.23 1143.58,335.08 1146.65,334.93 1149.72,334.78 1152.80,334.64 1155.88,334.49 1158.95,334.35 1162.03,334.21 1165.10,334.06 1168.17,333.92 1171.25,333.78 1174.33,333.65 1177.40,333.51 1180.47,333.37 1183.55,333.23 1186.62,333.10 1189.70,332.96 1192.78,332.83 1195.85,332.69 1198.92,332.56 1202.00,332.43 1205.08,332.29 1208.15,332.16 1211.22,332.03 1214.30,331.90 1217.38,331.77 1220.45,331.64 1223.53,331.51 1226.60,331.38 1229.67,331.25 1232.75,331.12" stroke="#ff00ff" stroke-width="8.0"/>
<circle cx="863.75" cy="387.00" r="4.0" fill="#ff00ff" stroke="none"/>
<rect x="1228.55" y="326.92" width="8.4" height="8.4" fill="#ff00ff"/>
<polyline points="863.75,387.00 866.83,384.29 869.90,381.66 872.98,379.11 876.05,376.64 879.12,374.25 882.20,371.94 885.27,369.69 888.35,367.52 891.42,365.41 894.50,363.37 897.58,361.39 900.65,359.47 903.73,357.62 906.80,355.82 909.88,354.07 912.95,352.38 916.02,350.74 919.10,349.15 922.17,347.60 925.25,346.11 928.33,344.66 931.40,343.25 934.48,341.89 937.55,340.56 940.62,339.28 943.70,338.04 946.77,336.83 949.85,335.66 952.92,334.52 956.00,333.42 959.08,332.35 962.15,331.31 965.23,330.30 968.30,329.32 971.38,328.37 974.45,327.45 977.52,326.56 980.60,325.69 983.67,324.84 986.75,324.02 989.83,323.22 992.90,322.45 995.98,321.70 999.05,320.96 1002.12,320.25 1005.20,319.56 1008.27,318.89 1011.35,318.24 1014.42,317.60 1017.50,316.98 1020.58,316.38 1023.65,315.80 1026.72,315.23 1029.80,314.67 1032.88,314.14 1035.95,313.61 1039.03,313.10 1042.10,312.60 1045.17,312.12 1048.25,311.65 1051.33,311.19 1054.40,310.74 1057.47,310.30 1060.55,309.87 1063.62,309.46 1066.70,309.05 1069.78,308.66 1072.85,308.27 1075.92,307.90 1079.00,307.53 1082.08,307.17 1085.15,306.82 1088.22,306.48 1091.30,306.14 1094.38,305.82 1097.45,305.50 1100.53,305.18 1103.60,304.88 1106.67,304.58 1109.75,304.29 1112.83,304.00 1115.90,303.72 1118.97,303.45 1122.05,303.18 1125.12,302.92 1128.20,302.66 1131.28,302.41 1134.35,302.16 1137.42,301.92 1140.50,301.68 1143.58,301.45 1146.65,301.22 1149.72,300.99 1152.80,300.77 1155.88,300.55 1158.95,300.34 1162.03,300.13 1165.10,299.92 1168.17,299.72 1171.25,299.52 1174.33,299.33 1177.40,299.13 1180.47,298.94 1183.55,298.76 1186.62,298.57 1189.70,298.39 1192.78,298.21 1195.85,298.04 1198.92,297.86 1202.00,297.69 1205.08,297.52 1208.15,297.36 1211.22,297.19 1214.30,297.03 1217.38,296.87 1220.45,296.71 1223.53,296.56 1226.60,296.40 1229.67,296.25 1232.75,296.10" stroke="#808000" stroke-width="8.0"/>
<circle cx="863.75" cy="387.00" r="4.0" fill="#808000" stroke="none"/>
<polygon points="1229.75,290.60 1238.75,296.10 1229.75,301.60" fill="#808000"/>
<polyline points="863.75,387.00 866.83,383.79 869.90,380.66 872.98,377.59 876.05,374.60 879.12,371.67 882.20,368.81 885.27,366.01 888.35,363.28 891.42,360.61 894.50,358.00 897.58,355.45 900.65,352.96 903.73,350.53 906.80,348.15 909.88,345.82 912.95,343.55 916.02,341.33 919.10,339.17 922.17,337.05 925.25,334.98 928.33,332.96 931.40,330.99 934.48,329.06 937.55,327.17 940.62,325.34 943.70,323.54 946.77,321.78 949.85,320.07 952.92,318.40 956.00,316.76 959.08,315.17 962.15,313.61 965.23,312.09 968.30,310.60 971.38,309.15 974.45,307.73 977.52,306.35 980.60,305.00 983.67,303.68 986.75,302.40 989.83,301.14 992.90,299.92 995.98,298.72 999.05,297.56 1002.12,296.42 1005.20,295.31 1008.27,294.23 1011.35,293.17 1014.42,292.14 1017.50,291.13 1020.58,290.15 1023.65,289.20 1026.72,288.26 1029.80,287.35 1032.88,286.47 1035.95,285.60 1039.03,284.76 1042.10,283.94 1045.17,283.14 1048.25,282.36 1051.33,281.59 1054.40,280.85 1057.47,280.13 1060.55,279.43 1063.62,278.74 1066.70,278.07 1069.78,277.42 1072.85,276.79 1075.92,276.17 1079.00,275.57 1082.08,274.99 1085.15,274.42 1088.22,273.87 1091.30,273.33 1094.38,272.81 1097.45,272.30 1100.53,271.80 1103.60,271.32 1106.67,270.85 1109.75,270.40 1112.83,269.96 1115.90,269.53 1118.97,269.11 1122.05,268.71 1125.12,268.31 1128.20,267.93 1131.28,267.56 1134.35,267.20 1137.42,266.85 1140.50,266.51 1143.58,266.18 1146.65,265.87 1149.72,265.56 1152.80,265.26 1155.88,264.97 1158.95,264.69 1162.03,264.42 1165.10,264.16 1168.17,263.91 1171.25,263.66 1174.33,263.42 1177.40,263.20 1180.47,262.98 1183.55,262.76 1186.62,262.56 1189.70,262.36 1192.78,262.17 1195.85,261.99 1198.92,261.81 1202.00,261.64 1205.08,261.48 1208.15,261.32 1211.22,261.17 1214.30,261.03 1217.38,260.89 1220.45,260.76 1223.53,260.63 1226.60,260.51 1229.67,260.40 1232.75,260.29" stroke="#000080" stroke-width="8.0"/>
<circle cx="863.75" cy="387.00" r="4.0" fill="#000080" stroke="none"/>
<polygon points="1227.25,260.29 1232.75,254.79 1238.25,260.29 1232.75,265.79" fill="#000080"/>
<polyline points="863.75,387.00 866.83,383.49 869.90,380.04 872.98,376.64 876.05,373.31 879.12,370.03 882.20,366.80 885.27,363.64 888.35,360.52 891.42,357.46 894.50,354.45 897.58,351.50 900.65,348.59 903.73,345.74 906.80,342.94 909.88,340.18 912.95,337.47 916.02,334.81 919.10,332.20 922.17,329.64 925.25,327.12 928.33,324.64 931.40,322.21 934.48,319.82 937.55,317.48 940.62,315.18 943.70,312.92 946.77,310.70 949.85,308.52 952.92,306.38 956.00,304.28 959.08,302.23 962.15,300.20 965.23,298.22 968.30,296.27 971.38,294.36 974.45,292.49 977.52,290.65 980.60,288.85 983.67,287.08 986.75,285.35 989.83,283.65 992.90,281.98 995.98,280.35 999.05,278.75 1002.12,277.18 1005.20,275.64 1008.27,274.13 1011.35,272.65 1014.42,271.21 1017.50,269.79 1020.58,268.40 1023.65,267.04 1026.72,265.71 1029.80,264.41 1032.88,263.13 1035.95,261.88 1039.03,260.66 1042.10,259.46 1045.17,258.29 1048.25,257.15 1051.33,256.03 1054.40,254.93 1057.47,253.86 1060.55,252.82 1063.62,251.79 1066.70,250.80 1069.78,249.82 1072.85,248.87 1075.92,247.94 1079.00,247.03 1082.08,246.14 1085.15,245.28 1088.22,244.43 1091.30,243.61 1094.38,242.81 1097.45,242.03 1100.53,241.26 1103.60,240.52 1106.67,239.80 1109.75,239.10 1112.83,238.41 1115.90,237.74 1118.97,237.10 1122.05,236.47 1125.12,235.85 1128.20,235.26 1131.28,234.68 1134.35,234.12 1137.42,233.58 1140.50,233.05 1143.58,232.54 1146.65,232.05 1149.72,231.57 1152.80,231.11 1155.88,230.66 1158.95,230.23 1162.03,229.81 1165.10,229.41 1168.17,229.02 1171.25,228.64 1174.33,228.28 1177.40,227.94 1180.47,227.61 1183.55,227.29 1186.62,226.98 1189.70,226.69 1192.78,226.41 1195.85,226.15 1198.92,225.89 1202.00,225.65 1205.08,225.42 1208.15,225.20 1211.22,225.00 1214.30,224.81 1217.38,224.62 1220.45,224.45 1223.53,224.29 1226.60,224.15 1229.67,224.01 1232.75,223.88" stroke="#800000" stroke-width="8.0"/>
<circle cx="863.75" cy="387.00" r="4.0" fill="#800000" stroke="none"/>
<circle cx="1232.75" cy="223.88" r="4.3" fill="#800000"/>
<polyline points="863.75,387.00 866.83,383.18 869.90,379.42 872.98,375.71 876.05,372.05 879.12,368.44 882.20,364.89 885.27,361.39 888.35,357.93 891.42,354.53 894.50,351.18 897.58,347.87 900.65,344.62 903.73,341.41 906.80,338.25 909.88,335.14 912.95,332.07 916.02,329.05 919.10,326.07 922.17,323.14 925.25,320.25 928.33,317.41 931.40,314.61 934.48,311.85 937.55,309.14 940.62,306.46 943.70,303.83 946.77,301.24 949.85,298.69 952.92,296.18 956.00,293.71 959.08,291.28 962.15,288.89 965.23,286.53 968.30,284.22 971.38,281.94 974.45,279.69 977.52,277.49 980.60,275.32 983.67,273.19 986.75,271.09 989.83,269.03 992.90,267.00 995.98,265.00 999.05,263.04 1002.12,261.12 1005.20,259.22 1008.27,257.36 1011.35,255.54 1014.42,253.74 1017.50,251.98 1020.58,250.24 1023.65,248.54 1026.72,246.87 1029.80,245.23 1032.88,243.62 1035.95,242.04 1039.03,240.48 1042.10,238.96 1045.17,237.47 1048.25,236.00 1051.33,234.56 1054.40,233.15 1057.47,231.77 1060.55,230.42 1063.62,229.09 1066.70,227.79 1069.78,226.51 1072.85,225.26 1075.92,224.04 1079.00,222.84 1082.08,221.66 1085.15,220.51 1088.22,219.39 1091.30,218.29 1094.38,217.21 1097.45,216.16 1100.53,215.13 1103.60,214.13 1106.67,213.14 1109.75,212.18 1112.83,211.25 1115.90,210.33 1118.97,209.44 1122.05,208.57 1125.12,207.72 1128.20,206.89 1131.28,206.08 1134.35,205.29 1137.42,204.53 1140.50,203.78 1143.58,203.06 1146.65,202.35 1149.72,201.66 1152.80,201.00 1155.88,200.35 1158.95,199.72 1162.03,199.11 1165.10,198.52 1168.17,197.95 1171.25,197.39 1174.33,196.85 1177.40,196.34 1180.47,195.83 1183.55,195.35 1186.62,194.88 1189.70,194.43 1192.78,194.00 1195.85,193.58 1198.92,193.18 1202.00,192.80 1205.08,192.43 1208.15,192.08 1211.22,191.75 1214.30,191.43 1217.38,191.12 1220.45,190.83 1223.53,190.56 1226.60,190.30 1229.67,190.05 1232.75,189.82" stroke="#ff0080" stroke-width="8.0"/>
<circle cx="863.75" cy="387.00" r="4.0" fill="#ff0080" stroke="none"/>
<circle cx="1232.75" cy="189.82" r="4.3" fill="#ff0080"/>
<polyline points="863.75,387.00 866.83,383.33 869.90,379.65 872.98,375.98 876.05,372.32 879.12,368.66 882.20,365.02 885.27,361.38 888.35,357.76 891.42,354.16 894.50,350.57 897.58,347.00 900.65,343.45 903.73,339.93 906.80,336.43 909.88,332.95 912.95,329.50 916.02,326.08 919.10,322.69 922.17,319.33 925.25,316.00 928.33,312.71 931.40,309.45 934.48,306.22 937.55,303.04 940.62,299.89 943.70,296.78 946.77,293.71 949.85,290.68 952.92,287.69 956.00,284.74 959.08,281.84 962.15,278.98 965.23,276.16 968.30,273.38 971.38,270.64 974.45,267.95 977.52,265.31 980.60,262.71 983.67,260.15 986.75,257.63 989.83,255.16 992.90,252.73 995.98,250.35 999.05,248.01 1002.12,245.71 1005.20,243.46 1008.27,241.25 1011.35,239.08 1014.42,236.95 1017.50,234.86 1020.58,232.82 1023.65,230.81 1026.72,228.84 1029.80,226.92 1032.88,225.03 1035.95,223.18 1039.03,221.37 1042.10,219.59 1045.17,217.85 1048.25,216.15 1051.33,214.48 1054.40,212.85 1057.47,211.25 1060.55,209.68 1063.62,208.15 1066.70,206.65 1069.78,205.18 1072.85,203.74 1075.92,202.33 1079.00,200.95 1082.08,199.60 1085.15,198.28 1088.22,196.98 1091.30,195.71 1094.38,194.47 1097.45,193.25 1100.53,192.06 1103.60,190.89 1106.67,189.74 1109.75,188.62 1112.83,187.52 1115.90,186.44 1118.97,185.39 1122.05,184.35 1125.12,183.34 1128.20,182.34 1131.28,181.36 1134.35,180.40 1137.42,179.46 1140.50,178.54 1143.58,177.64 1146.65,176.75 1149.72,175.88 1152.80,175.02 1155.88,174.18 1158.95,173.35 1162.03,172.54 1165.10,171.74 1168.17,170.95 1171.25,170.18 1174.33,169.42 1177.40,168.67 1180.47,167.94 1183.55,167.22 1186.62,166.50 1189.70,165.80 1192.78,165.11 1195.85,164.43 1198.92,163.76 1202.00,163.10 1205.08,162.45 1208.15,161.81 1211.22,161.17 1214.30,160.55 1217.38,159.93 1220.45,159.32 1223.53,158.72 1226.60,158.13 1229.67,157.54 1232.75,156.96" stroke="#008000" stroke-width="8.0"/>
<circle cx="863.75" cy="387.00" r="4.0" fill="#008000" stroke="none"/>
<polygon points="1232.75,150.96 1234.40,154.70 1238.46,155.11 1235.41,157.83 1236.28,161.82 1232.75,159.76 1229.22,161.82 1230.09,157.83 1227.04,155.11 1231.10,154.70" fill="#008000"/>
<polyline points="863.75,387.00 866.83,383.16 869.90,379.32 872.98,375.49 876.05,371.66 879.12,367.83 882.20,364.02 885.27,360.21 888.35,356.42 891.42,352.63 894.50,348.86 897.58,345.11 900.65,341.38 903.73,337.66 906.80,333.96 909.88,330.29 912.95,326.63 916.02,323.00 919.10,319.40 922.17,315.82 925.25,312.27 928.33,308.75 931.40,305.26 934.48,301.79 937.55,298.36 940.62,294.97 943.70,291.60 946.77,288.27 949.85,284.98 952.92,281.72 956.00,278.49 959.08,275.31 962.15,272.16 965.23,269.04 968.30,265.97 971.38,262.94 974.45,259.94 977.52,256.99 980.60,254.07 983.67,251.20 986.75,248.36 989.83,245.57 992.90,242.81 995.98,240.10 999.05,237.42 1002.12,234.79 1005.20,232.20 1008.27,229.64 1011.35,227.13 1014.42,224.66 1017.50,222.23 1020.58,219.83 1023.65,217.48 1026.72,215.17 1029.80,212.89 1032.88,210.65 1035.95,208.45 1039.03,206.29 1042.10,204.17 1045.17,202.08 1048.25,200.03 1051.33,198.02 1054.40,196.04 1057.47,194.09 1060.55,192.18 1063.62,190.31 1066.70,188.47 1069.78,186.66 1072.85,184.89 1075.92,183.14 1079.00,181.43 1082.08,179.75 1085.15,178.10 1088.22,176.48 1091.30,174.89 1094.38,173.33 1097.45,171.80 1100.53,170.30 1103.60,168.82 1106.67,167.37 1109.75,165.95 1112.83,164.55 1115.90,163.18 1118.97,161.83 1122.05,160.50 1125.12,159.20 1128.20,157.93 1131.28,156.67 1134.35,155.44 1137.42,154.23 1140.50,153.04 1143.58,151.87 1146.65,150.73 1149.72,149.60 1152.80,148.49 1155.88,147.40 1158.95,146.33 1162.03,145.27 1165.10,144.24 1168.17,143.22 1171.25,142.21 1174.33,141.23 1177.40,140.26 1180.47,139.30 1183.55,138.36 1186.62,137.44 1189.70,136.53 1192.78,135.63 1195.85,134.75 1198.92,133.88 1202.00,133.02 1205.08,132.18 1208.15,131.34 1211.22,130.52 1214.30,129.71 1217.38,128.92 1220.45,128.13 1223.53,127.35 1226.60,126.59 1229.67,125.83 1232.75,125.09" stroke="#9933ff" stroke-width="8.0"/>
<circle cx="863.75" cy="387.00" r="4.0" fill="#9933ff" stroke="none"/>
<circle cx="1232.75" cy="125.09" r="4.3" fill="#9933ff"/>
<polyline points="863.75,387.00 866.83,382.34 869.90,377.72 872.98,373.16 876.05,368.64 879.12,364.17 882.20,359.75 885.27,355.37 888.35,351.04 891.42,346.76 894.50,342.52 897.58,338.33 900.65,334.18 903.73,330.08 906.80,326.02 909.88,322.01 912.95,318.04 916.02,314.11 919.10,310.23 922.17,306.39 925.25,302.60 928.33,298.84 931.40,295.13 934.48,291.47 937.55,287.84 940.62,284.25 943.70,280.71 946.77,277.21 949.85,273.74 952.92,270.32 956.00,266.94 959.08,263.60 962.15,260.29 965.23,257.03 968.30,253.81 971.38,250.62 974.45,247.47 977.52,244.36 980.60,241.29 983.67,238.26 986.75,235.26 989.83,232.30 992.90,229.38 995.98,226.50 999.05,223.65 1002.12,220.83 1005.20,218.06 1008.27,215.32 1011.35,212.61 1014.42,209.94 1017.50,207.31 1020.58,204.70 1023.65,202.14 1026.72,199.61 1029.80,197.11 1032.88,194.64 1035.95,192.21 1039.03,189.82 1042.10,187.45 1045.17,185.12 1048.25,182.82 1051.33,180.56 1054.40,178.32 1057.47,176.12 1060.55,173.95 1063.62,171.81 1066.70,169.71 1069.78,167.63 1072.85,165.59 1075.92,163.57 1079.00,161.59 1082.08,159.64 1085.15,157.71 1088.22,155.82 1091.30,153.96 1094.38,152.12 1097.45,150.32 1100.53,148.54 1103.60,146.80 1106.67,145.08 1109.75,143.39 1112.83,141.73 1115.90,140.09 1118.97,138.49 1122.05,136.91 1125.12,135.36 1128.20,133.84 1131.28,132.34 1134.35,130.88 1137.42,129.43 1140.50,128.02 1143.58,126.63 1146.65,125.27 1149.72,123.93 1152.80,122.62 1155.88,121.34 1158.95,120.08 1162.03,118.85 1165.10,117.64 1168.17,116.46 1171.25,115.30 1174.33,114.17 1177.40,113.06 1180.47,111.97 1183.55,110.91 1186.62,109.88 1189.70,108.87 1192.78,107.88 1195.85,106.91 1198.92,105.97 1202.00,105.05 1205.08,104.16 1208.15,103.29 1211.22,102.44 1214.30,101.61 1217.38,100.81 1220.45,100.03 1223.53,99.27 1226.60,98.53 1229.67,97.81 1232.75,97.12" stroke="#0000ff" stroke-width="8.0"/>
<circle cx="863.75" cy="387.00" r="4.0" fill="#0000ff" stroke="none"/>
<rect x="1228.55" y="92.92" width="8.4" height="8.4" fill="#0000ff"/>
<polyline points="863.75,387.00 866.83,381.29 869.90,375.65 872.98,370.09 876.05,364.60 879.12,359.18 882.20,353.84 885.27,348.57 888.35,343.37 891.42,338.24 894.50,333.18 897.58,328.18 900.65,323.26 903.73,318.40 906.80,313.61 909.88,308.88 912.95,304.22 916.02,299.63 919.10,295.09 922.17,290.62 925.25,286.22 928.33,281.87 931.40,277.58 934.48,273.36 937.55,269.19 940.62,265.09 943.70,261.04 946.77,257.05 949.85,253.12 952.92,249.24 956.00,245.42 959.08,241.65 962.15,237.94 965.23,234.28 968.30,230.68 971.38,227.13 974.45,223.63 977.52,220.19 980.60,216.79 983.67,213.45 986.75,210.15 989.83,206.91 992.90,203.71 995.98,200.57 999.05,197.47 1002.12,194.42 1005.20,191.41 1008.27,188.46 1011.35,185.54 1014.42,182.68 1017.50,179.86 1020.58,177.08 1023.65,174.35 1026.72,171.66 1029.80,169.01 1032.88,166.41 1035.95,163.85 1039.03,161.33 1042.10,158.85 1045.17,156.42 1048.25,154.02 1051.33,151.67 1054.40,149.35 1057.47,147.07 1060.55,144.83 1063.62,142.63 1066.70,140.47 1069.78,138.35 1072.85,136.26 1075.92,134.21 1079.00,132.19 1082.08,130.21 1085.15,128.27 1088.22,126.36 1091.30,124.49 1094.38,122.65 1097.45,120.84 1100.53,119.07 1103.60,117.33 1106.67,115.63 1109.75,113.96 1112.83,112.32 1115.90,110.71 1118.97,109.13 1122.05,107.59 1125.12,106.07 1128.20,104.59 1131.28,103.13 1134.35,101.71 1137.42,100.32 1140.50,98.95 1143.58,97.62 1146.65,96.31 1149.72,95.03 1152.80,93.78 1155.88,92.56 1158.95,91.36 1162.03,90.19 1165.10,89.05 1168.17,87.93 1171.25,86.85 1174.33,85.78 1177.40,84.75 1180.47,83.73 1183.55,82.75 1186.62,81.79 1189.70,80.85 1192.78,79.94 1195.85,79.05 1198.92,78.18 1202.00,77.34 1205.08,76.52 1208.15,75.73 1211.22,74.96 1214.30,74.21 1217.38,73.48 1220.45,72.78 1223.53,72.09 1226.60,71.43 1229.67,70.79 1232.75,70.18" stroke="#ff8000" stroke-width="8.0"/>
<circle cx="863.75" cy="387.00" r="4.0" fill="#ff8000" stroke="none"/>
<circle cx="1232.75" cy="70.18" r="4.3" fill="#ff8000"/>
</g>
<rect x="833.2" y="45.1" width="460.6" height="371.6" fill="none" stroke="#6a6a6a" stroke-width="2" rx="2"/>
<g stroke="#6a6a6a" stroke-width="1.8">
<path d="M833.2,412.98 h3.50"/>
<path d="M833.2,387.00 h6.00"/>
<path d="M833.2,361.02 h3.50"/>
<path d="M833.2,335.05 h6.00"/>
<path d="M833.2,309.07 h3.50"/>
<path d="M833.2,283.10 h6.00"/>
<path d="M833.2,257.12 h3.50"/>
<path d="M833.2,231.15 h6.00"/>
<path d="M833.2,205.18 h3.50"/>
<path d="M833.2,179.20 h6.00"/>
<path d="M833.2,153.23 h3.50"/>
<path d="M833.2,127.25 h6.00"/>
<path d="M833.2,101.28 h3.50"/>
<path d="M833.2,75.30 h6.00"/>
<path d="M833.2,49.33 h3.50"/>
<path d="M863.75,416.7 v-6.00"/>
<path d="M894.50,416.7 v-3.50"/>
<path d="M925.25,416.7 v-6.00"/>
<path d="M956.00,416.7 v-3.50"/>
<path d="M986.75,416.7 v-6.00"/>
<path d="M1017.50,416.7 v-3.50"/>
<path d="M1048.25,416.7 v-6.00"/>
<path d="M1079.00,416.7 v-3.50"/>
<path d="M1109.75,416.7 v-6.00"/>
<path d="M1140.50,416.7 v-3.50"/>
<path d="M1171.25,416.7 v-6.00"/>
<path d="M1202.00,416.7 v-3.50"/>
<path d="M1232.75,416.7 v-6.00"/>
<path d="M1263.50,416.7 v-3.50"/>
</g>
<rect x="1249.8" y="80" width="4" height="285" fill="url(#gold)"/>
<path d="M1245.3,363 L1251.8,378.5 L1258.3,363 Z" fill="#ffcc00"/>
<g transform="translate(738.50,34.50) scale(1.0096,1)"><text x="0" y="0" font-family="'Liberation Serif', serif" font-weight="bold" font-style="normal" font-size="38.40" fill="#000" stroke="#000" stroke-width="0.65" xml:space="preserve">b</text></g>
<g transform="translate(842.29,34.20) scale(1.0194,1)"><text x="0" y="0" font-family="'Liberation Serif', serif" font-weight="bold" font-style="normal" font-size="28.00" fill="#f50000" stroke="#f50000" stroke-width="0.65" xml:space="preserve">SiO</text></g>
<g transform="translate(887.81,40.70) scale(1.2765,1)"><text x="0" y="0" font-family="'Liberation Serif', serif" font-weight="bold" font-style="normal" font-size="18.50" fill="#f50000" stroke="#f50000" stroke-width="0.65" xml:space="preserve">2</text></g>
<g transform="translate(899.69,34.20) scale(1.0302,1)"><text x="0" y="0" font-family="'Liberation Serif', serif" font-weight="bold" font-style="normal" font-size="28.00" fill="#f50000" stroke="#f50000" stroke-width="0.65" xml:space="preserve">/diamond</text></g>
<g transform="translate(840.12,80.60) scale(1.2700,1)"><text x="0" y="0" font-family="'Liberation Sans', sans-serif" font-weight="bold" font-style="italic" font-size="25.30" fill="#000" stroke="#000" stroke-width="0.40" xml:space="preserve">I</text></g>
<g transform="translate(848.26,88.10) scale(0.8941,1)"><text x="0" y="0" font-family="'Liberation Sans', sans-serif" font-weight="bold" font-style="normal" font-size="17.40" fill="#000" stroke="#000" stroke-width="0.40" xml:space="preserve">DS max</text></g>
<g transform="translate(906.09,80.60) scale(0.9467,1)"><text x="0" y="0" font-family="'Liberation Sans', sans-serif" font-weight="bold" font-style="normal" font-size="25.30" fill="#000" stroke="#000" stroke-width="0.40" xml:space="preserve">=</text></g>
<rect x="926" y="67.9" width="16" height="1.8" fill="#f50000"/>
<g transform="translate(949.29,80.60) scale(1.0457,1)"><text x="0" y="0" font-family="'Liberation Sans', sans-serif" font-weight="bold" font-style="normal" font-size="25.30" fill="#f50000" stroke="#f50000" stroke-width="0.40" xml:space="preserve">305.0</text></g>
<g transform="translate(1023.00,80.60) scale(1.0789,1)"><text x="0" y="0" font-family="'Liberation Sans', sans-serif" font-weight="bold" font-style="normal" font-size="25.30" fill="#000" stroke="#000" stroke-width="0.40" xml:space="preserve">mA/mm</text></g>
<g transform="translate(847.80,125.80) scale(0.8676,1)"><text x="0" y="0" font-family="'Liberation Sans', sans-serif" font-weight="bold" font-style="italic" font-size="25.30" fill="#000" stroke="#000" stroke-width="0.40" xml:space="preserve">R</text></g>
<g transform="translate(862.50,132.00) scale(0.9826,1)"><text x="0" y="0" font-family="'Liberation Sans', sans-serif" font-weight="bold" font-style="normal" font-size="17.40" fill="#000" stroke="#000" stroke-width="0.40" xml:space="preserve">ON</text></g>
<g transform="translate(887.98,125.80) scale(0.8678,1)"><text x="0" y="0" font-family="'Liberation Sans', sans-serif" font-weight="bold" font-style="normal" font-size="25.30" fill="#000" stroke="#000" stroke-width="0.40" xml:space="preserve">=</text></g>
<g transform="translate(901.29,125.80) scale(1.0789,1)"><text x="0" y="0" font-family="'Liberation Sans', sans-serif" font-weight="bold" font-style="normal" font-size="25.30" fill="#f50000" stroke="#f50000" stroke-width="0.40" xml:space="preserve">41.9</text></g>
<g transform="translate(961.65,125.80) scale(1.0117,1)"><text x="0" y="0" font-family="'Liberation Sans', sans-serif" font-weight="bold" font-style="normal" font-size="25.30" fill="#000" stroke="#000" stroke-width="0.40" xml:space="preserve">Ωmm</text></g>
<g transform="translate(847.90,164.00) scale(0.6421,1)"><text x="0" y="0" font-family="'Liberation Sans', sans-serif" font-weight="bold" font-style="normal" font-size="25.50" fill="#000" stroke="#000" stroke-width="0.40" xml:space="preserve">L</text></g>
<g transform="translate(858.29,170.50) scale(0.8560,1)"><text x="0" y="0" font-family="'Liberation Sans', sans-serif" font-weight="bold" font-style="normal" font-size="17.40" fill="#000" stroke="#000" stroke-width="0.40" xml:space="preserve">CH</text></g>
<g transform="translate(880.69,164.00) scale(1.0338,1)"><text x="0" y="0" font-family="'Liberation Sans', sans-serif" font-weight="bold" font-style="normal" font-size="25.50" fill="#000" stroke="#000" stroke-width="0.40" xml:space="preserve">=4 UM</text></g>
<g transform="translate(847.32,201.30) scale(0.9758,1)"><text x="0" y="0" font-family="'Liberation Sans', sans-serif" font-weight="bold" font-style="normal" font-size="25.70" fill="#f50000" stroke="#f50000" stroke-width="0.40" xml:space="preserve">Experiment</text></g>
<g transform="translate(852.65,239.60) scale(1.0994,1)"><text x="0" y="0" font-family="'Liberation Serif', serif" font-weight="normal" font-style="normal" font-size="30.00" fill="#000" stroke="#000" stroke-width="0.15" xml:space="preserve">Δ</text></g>
<g transform="translate(873.60,239.60) scale(0.9153,1)"><text x="0" y="0" font-family="'Liberation Serif', serif" font-weight="bold" font-style="normal" font-size="30.00" fill="#000" stroke="#000" stroke-width="0.65" xml:space="preserve">V=4 V</text></g>
<g transform="translate(1148.91,70.40) scale(0.7801,1)"><text x="0" y="0" font-family="'Liberation Sans', sans-serif" font-weight="normal" font-style="italic" font-size="27.90" fill="#000" stroke="#000" stroke-width="0.15" xml:space="preserve">V</text></g>
<g transform="translate(1165.18,75.30) scale(0.7530,1)"><text x="0" y="0" font-family="'Liberation Sans', sans-serif" font-weight="normal" font-style="normal" font-size="19.00" fill="#000" stroke="#000" stroke-width="0.15" xml:space="preserve">GS</text></g>
<g transform="translate(1187.08,70.40) scale(0.9661,1)"><text x="0" y="0" font-family="'Liberation Sans', sans-serif" font-weight="normal" font-style="normal" font-size="27.90" fill="#000" stroke="#000" stroke-width="0.15" xml:space="preserve">=</text></g>
<rect x="1209" y="57.9" width="15.3" height="1.6" fill="#222"/>
<g transform="translate(1231.63,70.40) scale(0.8868,1)"><text x="0" y="0" font-family="'Liberation Sans', sans-serif" font-weight="normal" font-style="normal" font-size="27.90" fill="#000" stroke="#000" stroke-width="0.15" xml:space="preserve">40 V</text></g>
<g transform="translate(1233.94,403.00) scale(0.9352,1)"><text x="0" y="0" font-family="'Liberation Sans', sans-serif" font-weight="normal" font-style="normal" font-size="26.20" fill="#000" stroke="#000" stroke-width="0.15" xml:space="preserve">0 V</text></g>
<g transform="translate(812.20,395.30) scale(0.9020,1)"><text x="0" y="0" font-family="'Liberation Serif', serif" font-weight="bold" font-style="normal" font-size="30.00" fill="#000" stroke="#000" stroke-width="0.65" xml:space="preserve">0</text></g>
<g transform="translate(789.66,343.35) scale(0.9020,1)"><text x="0" y="0" font-family="'Liberation Serif', serif" font-weight="bold" font-style="normal" font-size="30.00" fill="#000" stroke="#000" stroke-width="0.65" xml:space="preserve">-50</text></g>
<g transform="translate(776.13,291.40) scale(0.9020,1)"><text x="0" y="0" font-family="'Liberation Serif', serif" font-weight="bold" font-style="normal" font-size="30.00" fill="#000" stroke="#000" stroke-width="0.65" xml:space="preserve">-100</text></g>
<g transform="translate(776.13,239.45) scale(0.9020,1)"><text x="0" y="0" font-family="'Liberation Serif', serif" font-weight="bold" font-style="normal" font-size="30.00" fill="#000" stroke="#000" stroke-width="0.65" xml:space="preserve">-150</text></g>
<g transform="translate(776.13,187.50) scale(0.9020,1)"><text x="0" y="0" font-family="'Liberation Serif', serif" font-weight="bold" font-style="normal" font-size="30.00" fill="#000" stroke="#000" stroke-width="0.65" xml:space="preserve">-200</text></g>
<g transform="translate(776.13,135.55) scale(0.9020,1)"><text x="0" y="0" font-family="'Liberation Serif', serif" font-weight="bold" font-style="normal" font-size="30.00" fill="#000" stroke="#000" stroke-width="0.65" xml:space="preserve">-250</text></g>
<g transform="translate(776.13,83.60) scale(0.9020,1)"><text x="0" y="0" font-family="'Liberation Serif', serif" font-weight="bold" font-style="normal" font-size="30.00" fill="#000" stroke="#000" stroke-width="0.65" xml:space="preserve">-300</text></g>
<g transform="translate(856.19,448.30) scale(0.9020,1)"><text x="0" y="0" font-family="'Liberation Serif', serif" font-weight="bold" font-style="normal" font-size="30.00" fill="#000" stroke="#000" stroke-width="0.65" xml:space="preserve">0</text></g>
<g transform="translate(913.18,448.30) scale(0.9020,1)"><text x="0" y="0" font-family="'Liberation Serif', serif" font-weight="bold" font-style="normal" font-size="30.00" fill="#000" stroke="#000" stroke-width="0.65" xml:space="preserve">-5</text></g>
<g transform="translate(967.93,448.30) scale(0.9020,1)"><text x="0" y="0" font-family="'Liberation Serif', serif" font-weight="bold" font-style="normal" font-size="30.00" fill="#000" stroke="#000" stroke-width="0.65" xml:space="preserve">-10</text></g>
<g transform="translate(1029.41,448.30) scale(0.9020,1)"><text x="0" y="0" font-family="'Liberation Serif', serif" font-weight="bold" font-style="normal" font-size="30.00" fill="#000" stroke="#000" stroke-width="0.65" xml:space="preserve">-15</text></g>
<g transform="translate(1090.93,448.30) scale(0.9020,1)"><text x="0" y="0" font-family="'Liberation Serif', serif" font-weight="bold" font-style="normal" font-size="30.00" fill="#000" stroke="#000" stroke-width="0.65" xml:space="preserve">-20</text></g>
<g transform="translate(1152.41,448.30) scale(0.9020,1)"><text x="0" y="0" font-family="'Liberation Serif', serif" font-weight="bold" font-style="normal" font-size="30.00" fill="#000" stroke="#000" stroke-width="0.65" xml:space="preserve">-25</text></g>
<g transform="translate(1213.93,448.30) scale(0.9020,1)"><text x="0" y="0" font-family="'Liberation Serif', serif" font-weight="bold" font-style="normal" font-size="30.00" fill="#000" stroke="#000" stroke-width="0.65" xml:space="preserve">-30</text></g>
<g transform="translate(1275.41,448.30) scale(0.9020,1)"><text x="0" y="0" font-family="'Liberation Serif', serif" font-weight="bold" font-style="normal" font-size="30.00" fill="#000" stroke="#000" stroke-width="0.65" xml:space="preserve">-35</text></g>
<g transform="translate(993.70,492.40) scale(0.7925,1)"><text x="0" y="0" font-family="'Liberation Sans', sans-serif" font-weight="normal" font-style="italic" font-size="36.30" fill="#000" stroke="#000" stroke-width="0.15" xml:space="preserve">V</text></g>
<g transform="translate(1014.92,501.00) scale(0.7501,1)"><text x="0" y="0" font-family="'Liberation Sans', sans-serif" font-weight="normal" font-style="normal" font-size="24.00" fill="#000" stroke="#000" stroke-width="0.15" xml:space="preserve">DS</text></g>
<g transform="translate(1047.22,492.40) scale(0.9633,1)"><text x="0" y="0" font-family="'Liberation Sans', sans-serif" font-weight="normal" font-style="normal" font-size="36.30" fill="#000" stroke="#000" stroke-width="0.15" xml:space="preserve">[V]</text></g>
<g transform="translate(753.60,325.46) rotate(-90) scale(1.0000,1)"><text x="0" y="0" font-family="'Liberation Sans', sans-serif" font-weight="normal" font-style="italic" font-size="31.50" fill="#000" stroke="#000" stroke-width="0.15" xml:space="preserve">I</text></g>
<g transform="translate(762.00,314.62) rotate(-90) scale(0.9184,1)"><text x="0" y="0" font-family="'Liberation Sans', sans-serif" font-weight="normal" font-style="normal" font-size="21.50" fill="#000" stroke="#000" stroke-width="0.15" xml:space="preserve">DS</text></g>
<g transform="translate(753.60,279.84) rotate(-90) scale(1.2697,1)"><text x="0" y="0" font-family="'Liberation Sans', sans-serif" font-weight="normal" font-style="normal" font-size="31.50" fill="#000" stroke="#000" stroke-width="0.15" xml:space="preserve">[mA/mm]</text></g>
<g stroke="#383838" stroke-width="2" fill="none">
<path d="M130.6,596.40 V972.2 H613"/>
<path d="M130.6,971.70 h-8.00"/>
<path d="M130.6,950.85 h-4.50"/>
<path d="M130.6,930.00 h-8.00"/>
<path d="M130.6,909.15 h-4.50"/>
<path d="M130.6,888.30 h-8.00"/>
<path d="M130.6,867.45 h-4.50"/>
<path d="M130.6,846.60 h-8.00"/>
<path d="M130.6,825.75 h-4.50"/>
<path d="M130.6,804.90 h-8.00"/>
<path d="M130.6,784.05 h-4.50"/>
<path d="M130.6,763.20 h-8.00"/>
<path d="M130.6,742.35 h-4.50"/>
<path d="M130.6,721.50 h-8.00"/>
<path d="M130.6,700.65 h-4.50"/>
<path d="M130.6,679.80 h-8.00"/>
<path d="M130.6,658.95 h-4.50"/>
<path d="M130.6,638.10 h-8.00"/>
<path d="M130.6,617.25 h-4.50"/>
<path d="M130.6,596.40 h-8.00"/>
<path d="M613.30,972.2 v4.00"/>
<path d="M573.00,972.2 v7.50"/>
<path d="M532.70,972.2 v4.00"/>
<path d="M492.40,972.2 v7.50"/>
<path d="M452.10,972.2 v4.00"/>
<path d="M411.80,972.2 v7.50"/>
<path d="M371.50,972.2 v4.00"/>
<path d="M331.20,972.2 v7.50"/>
<path d="M290.90,972.2 v4.00"/>
<path d="M250.60,972.2 v7.50"/>
<path d="M210.30,972.2 v4.00"/>
<path d="M170.00,972.2 v7.50"/>
</g>
<path d="M262.4,1002.4 L356.2,681.7" stroke="#f29a55" stroke-width="1.6" fill="none"/>
<polyline points="186.12,930.00 218.36,930.00 250.60,930.00 282.84,913.32 315.08,828.42 347.32,782.13 379.56,750.02 411.80,723.59 444.04,701.65 476.28,682.30 508.52,666.46 540.76,650.61 573.00,636.43" fill="none" stroke="#000" stroke-width="4.3" stroke-linejoin="round"/>
<g fill="#000">
<use href="#mS2" x="186.12" y="930.00"/>
<use href="#mS2" x="218.36" y="930.00"/>
<use href="#mS2" x="250.60" y="930.00"/>
<use href="#mS2" x="282.84" y="913.32"/>
<use href="#mS2" x="315.08" y="828.42"/>
<use href="#mS2" x="347.32" y="782.13"/>
<use href="#mS2" x="379.56" y="750.02"/>
<use href="#mS2" x="411.80" y="723.59"/>
<use href="#mS2" x="444.04" y="701.65"/>
<use href="#mS2" x="476.28" y="682.30"/>
<use href="#mS2" x="508.52" y="666.46"/>
<use href="#mS2" x="540.76" y="650.61"/>
<use href="#mS2" x="573.00" y="636.43"/>
</g>
<g transform="translate(7.63,591.60) scale(1.1598,1)"><text x="0" y="0" font-family="'Liberation Serif', serif" font-weight="bold" font-style="normal" font-size="37.40" fill="#000" stroke="#000" stroke-width="0.65" xml:space="preserve">c</text></g>
<g transform="translate(155.06,600.50) scale(1.0019,1)"><text x="0" y="0" font-family="'Liberation Serif', serif" font-weight="bold" font-style="normal" font-size="30.80" fill="#000" stroke="#000" stroke-width="0.65" xml:space="preserve">V</text></g>
<g transform="translate(177.43,608.00) scale(0.9892,1)"><text x="0" y="0" font-family="'Liberation Serif', serif" font-weight="bold" font-style="normal" font-size="20.50" fill="#000" stroke="#000" stroke-width="0.65" xml:space="preserve">DS</text></g>
<g transform="translate(209.91,600.50) scale(1.0303,1)"><text x="0" y="0" font-family="'Liberation Serif', serif" font-weight="bold" font-style="normal" font-size="30.80" fill="#000" stroke="#000" stroke-width="0.65" xml:space="preserve">= -0.5 [V]</text></g>
<g transform="translate(155.06,640.20) scale(1.0019,1)"><text x="0" y="0" font-family="'Liberation Serif', serif" font-weight="bold" font-style="normal" font-size="30.80" fill="#000" stroke="#000" stroke-width="0.65" xml:space="preserve">V</text></g>
<g transform="translate(177.52,647.00) scale(0.8528,1)"><text x="0" y="0" font-family="'Liberation Serif', serif" font-weight="bold" font-style="normal" font-size="20.50" fill="#000" stroke="#000" stroke-width="0.65" xml:space="preserve">th</text></g>
<g transform="translate(193.54,640.20) scale(1.0138,1)"><text x="0" y="0" font-family="'Liberation Serif', serif" font-weight="bold" font-style="normal" font-size="30.80" fill="#000" stroke="#000" stroke-width="0.65" xml:space="preserve">=-3.5 [V]</text></g>
<g transform="translate(154.80,680.60) scale(1.0192,1)"><text x="0" y="0" font-family="'Liberation Serif', serif" font-weight="bold" font-style="normal" font-size="31.00" fill="#000" stroke="#000" stroke-width="0.65" xml:space="preserve">Normally-off</text></g>
<g transform="translate(153.73,719.60) scale(1.0349,1)"><text x="0" y="0" font-family="'Liberation Serif', serif" font-weight="bold" font-style="normal" font-size="30.50" fill="#f50000" stroke="#f50000" stroke-width="0.65" xml:space="preserve">Simulation</text></g>
<g transform="translate(70.32,978.50) scale(0.9750,1)"><text x="0" y="0" font-family="'Liberation Sans', sans-serif" font-weight="bold" font-style="normal" font-size="27.40" fill="#000" stroke="#000" stroke-width="0.40" xml:space="preserve">-0.5</text></g>
<g transform="translate(79.56,936.80) scale(0.9750,1)"><text x="0" y="0" font-family="'Liberation Sans', sans-serif" font-weight="bold" font-style="normal" font-size="27.40" fill="#000" stroke="#000" stroke-width="0.40" xml:space="preserve">0.0</text></g>
<g transform="translate(79.21,895.10) scale(0.9750,1)"><text x="0" y="0" font-family="'Liberation Sans', sans-serif" font-weight="bold" font-style="normal" font-size="27.40" fill="#000" stroke="#000" stroke-width="0.40" xml:space="preserve">0.5</text></g>
<g transform="translate(79.56,853.40) scale(0.9750,1)"><text x="0" y="0" font-family="'Liberation Sans', sans-serif" font-weight="bold" font-style="normal" font-size="27.40" fill="#000" stroke="#000" stroke-width="0.40" xml:space="preserve">1.0</text></g>
<g transform="translate(79.21,811.70) scale(0.9750,1)"><text x="0" y="0" font-family="'Liberation Sans', sans-serif" font-weight="bold" font-style="normal" font-size="27.40" fill="#000" stroke="#000" stroke-width="0.40" xml:space="preserve">1.5</text></g>
<g transform="translate(79.56,770.00) scale(0.9750,1)"><text x="0" y="0" font-family="'Liberation Sans', sans-serif" font-weight="bold" font-style="normal" font-size="27.40" fill="#000" stroke="#000" stroke-width="0.40" xml:space="preserve">2.0</text></g>
<g transform="translate(79.21,728.30) scale(0.9750,1)"><text x="0" y="0" font-family="'Liberation Sans', sans-serif" font-weight="bold" font-style="normal" font-size="27.40" fill="#000" stroke="#000" stroke-width="0.40" xml:space="preserve">2.5</text></g>
<g transform="translate(79.56,686.60) scale(0.9750,1)"><text x="0" y="0" font-family="'Liberation Sans', sans-serif" font-weight="bold" font-style="normal" font-size="27.40" fill="#000" stroke="#000" stroke-width="0.40" xml:space="preserve">3.0</text></g>
<g transform="translate(79.21,644.90) scale(0.9750,1)"><text x="0" y="0" font-family="'Liberation Sans', sans-serif" font-weight="bold" font-style="normal" font-size="27.40" fill="#000" stroke="#000" stroke-width="0.40" xml:space="preserve">3.5</text></g>
<g transform="translate(79.56,603.20) scale(0.9750,1)"><text x="0" y="0" font-family="'Liberation Sans', sans-serif" font-weight="bold" font-style="normal" font-size="27.40" fill="#000" stroke="#000" stroke-width="0.40" xml:space="preserve">4.0</text></g>
<g transform="translate(154.32,1006.80) scale(0.9600,1)"><text x="0" y="0" font-family="'Liberation Sans', sans-serif" font-weight="bold" font-style="normal" font-size="28.80" fill="#000" stroke="#000" stroke-width="0.40" xml:space="preserve">10</text></g>
<g transform="translate(242.93,1006.80) scale(0.9600,1)"><text x="0" y="0" font-family="'Liberation Sans', sans-serif" font-weight="bold" font-style="normal" font-size="28.80" fill="#000" stroke="#000" stroke-width="0.40" xml:space="preserve">0</text></g>
<g transform="translate(311.25,1006.80) scale(0.9600,1)"><text x="0" y="0" font-family="'Liberation Sans', sans-serif" font-weight="bold" font-style="normal" font-size="28.80" fill="#000" stroke="#000" stroke-width="0.40" xml:space="preserve">-10</text></g>
<g transform="translate(391.85,1006.80) scale(0.9600,1)"><text x="0" y="0" font-family="'Liberation Sans', sans-serif" font-weight="bold" font-style="normal" font-size="28.80" fill="#000" stroke="#000" stroke-width="0.40" xml:space="preserve">-20</text></g>
<g transform="translate(472.45,1006.80) scale(0.9600,1)"><text x="0" y="0" font-family="'Liberation Sans', sans-serif" font-weight="bold" font-style="normal" font-size="28.80" fill="#000" stroke="#000" stroke-width="0.40" xml:space="preserve">-30</text></g>
<g transform="translate(553.05,1006.80) scale(0.9600,1)"><text x="0" y="0" font-family="'Liberation Sans', sans-serif" font-weight="bold" font-style="normal" font-size="28.80" fill="#000" stroke="#000" stroke-width="0.40" xml:space="preserve">-40</text></g>
<g transform="translate(320.93,1055.00) scale(0.8376,1)"><text x="0" y="0" font-family="'Liberation Sans', sans-serif" font-weight="bold" font-style="normal" font-size="29.80" fill="#000" stroke="#000" stroke-width="0.40" xml:space="preserve">V</text></g>
<g transform="translate(339.42,1061.80) scale(0.9132,1)"><text x="0" y="0" font-family="'Liberation Sans', sans-serif" font-weight="bold" font-style="normal" font-size="28.80" fill="#000" stroke="#000" stroke-width="0.40" xml:space="preserve">GS</text></g>
<g transform="translate(387.77,1055.00) scale(0.8575,1)"><text x="0" y="0" font-family="'Liberation Sans', sans-serif" font-weight="bold" font-style="normal" font-size="29.80" fill="#000" stroke="#000" stroke-width="0.40" xml:space="preserve">[V]</text></g>
<g transform="translate(65.80,871.47) rotate(-90) scale(0.9933,1)"><text x="0" y="0" font-family="'Liberation Serif', serif" font-weight="bold" font-style="normal" font-size="34.50" fill="#000" stroke="#000" stroke-width="0.65" xml:space="preserve">I</text></g>
<g transform="translate(73.60,854.42) rotate(-90) scale(1.0265,1)"><text x="0" y="0" font-family="'Liberation Serif', serif" font-weight="bold" font-style="italic" font-size="25.00" fill="#000" stroke="#000" stroke-width="0.65" xml:space="preserve">DS</text></g>
<g transform="translate(65.80,807.96) rotate(-90) scale(1.1133,1)"><text x="0" y="0" font-family="'Liberation Serif', serif" font-weight="normal" font-style="normal" font-size="36.00" fill="#000" stroke="#000" stroke-width="0.15" xml:space="preserve">(</text></g>
<g transform="translate(65.80,794.07) rotate(-90) scale(1.0026,1)"><text x="0" y="0" font-family="'Liberation Serif', serif" font-weight="bold" font-style="normal" font-size="36.00" fill="#000" stroke="#000" stroke-width="0.65" xml:space="preserve">mA</text></g>
<g transform="translate(65.80,734.60) rotate(-90) scale(1.3989,1)"><text x="0" y="0" font-family="'Liberation Serif', serif" font-weight="normal" font-style="normal" font-size="36.00" fill="#000" stroke="#000" stroke-width="0.15" xml:space="preserve">/</text></g>
<g transform="translate(65.80,717.35) rotate(-90) scale(1.0772,1)"><text x="0" y="0" font-family="'Liberation Serif', serif" font-weight="bold" font-style="normal" font-size="36.00" fill="#000" stroke="#000" stroke-width="0.65" xml:space="preserve">mm</text></g>
<g transform="translate(65.80,650.73) rotate(-90) scale(0.8971,1)"><text x="0" y="0" font-family="'Liberation Serif', serif" font-weight="normal" font-style="normal" font-size="36.00" fill="#000" stroke="#000" stroke-width="0.15" xml:space="preserve">)</text></g>
<path d="M34,638 V874 L74.9,886.3 L59.5,895 L61,898.5" fill="none" stroke="#000" stroke-width="2.2" stroke-linejoin="miter"/>
<g stroke="#383838" stroke-width="2" fill="none">
<path d="M851.8,596.2 V973 H1396.8"/>
<path d="M851.8,972.62 h-4.50"/>
<path d="M851.8,935.00 h-8.00"/>
<path d="M851.8,897.38 h-4.50"/>
<path d="M851.8,859.75 h-8.00"/>
<path d="M851.8,822.12 h-4.50"/>
<path d="M851.8,784.50 h-8.00"/>
<path d="M851.8,746.88 h-4.50"/>
<path d="M851.8,709.25 h-8.00"/>
<path d="M851.8,671.62 h-4.50"/>
<path d="M851.8,634.00 h-8.00"/>
<path d="M851.8,596.38 h-4.50"/>
<path d="M1352.00,973 v8.00"/>
<path d="M1306.50,973 v4.50"/>
<path d="M1261.00,973 v8.00"/>
<path d="M1215.50,973 v4.50"/>
<path d="M1170.00,973 v8.00"/>
<path d="M1124.50,973 v4.50"/>
<path d="M1079.00,973 v8.00"/>
<path d="M1033.50,973 v4.50"/>
<path d="M988.00,973 v8.00"/>
<path d="M942.50,973 v4.50"/>
<path d="M897.00,973 v8.00"/>
<path d="M851.50,973 v4.50"/>
</g>
<polyline points="915.20,935.00 951.60,935.00 988.00,935.00 1024.40,927.85 1060.80,663.35 1097.20,625.72 1133.60,646.79 1170.00,663.35 1206.40,678.40 1242.80,690.66 1279.20,702.48 1315.60,712.64 1352.00,722.04" fill="none" stroke="#000" stroke-width="4.3" stroke-linejoin="round"/>
<g fill="#000">
<use href="#mS2" x="915.20" y="935.00"/>
<use href="#mS2" x="951.60" y="935.00"/>
<use href="#mS2" x="988.00" y="935.00"/>
<use href="#mS2" x="1024.40" y="927.85"/>
<use href="#mS2" x="1060.80" y="663.35"/>
<use href="#mS2" x="1097.20" y="625.72"/>
<use href="#mS2" x="1133.60" y="646.79"/>
<use href="#mS2" x="1170.00" y="663.35"/>
<use href="#mS2" x="1206.40" y="678.40"/>
<use href="#mS2" x="1242.80" y="690.66"/>
<use href="#mS2" x="1279.20" y="702.48"/>
<use href="#mS2" x="1315.60" y="712.64"/>
<use href="#mS2" x="1352.00" y="722.04"/>
</g>
<g transform="translate(736.13,591.60) scale(1.0271,1)"><text x="0" y="0" font-family="'Liberation Serif', serif" font-weight="bold" font-style="normal" font-size="39.60" fill="#000" stroke="#000" stroke-width="0.65" xml:space="preserve">d</text></g>
<g transform="translate(874.59,581.30) scale(0.9875,1)"><text x="0" y="0" font-family="'Liberation Serif', serif" font-weight="bold" font-style="normal" font-size="28.50" fill="#000" stroke="#000" stroke-width="0.65" xml:space="preserve">V</text></g>
<g transform="translate(897.03,588.30) scale(1.0304,1)"><text x="0" y="0" font-family="'Liberation Serif', serif" font-weight="bold" font-style="normal" font-size="20.00" fill="#000" stroke="#000" stroke-width="0.65" xml:space="preserve">DS</text></g>
<g transform="translate(930.20,581.30) scale(1.1242,1)"><text x="0" y="0" font-family="'Liberation Serif', serif" font-weight="bold" font-style="normal" font-size="28.50" fill="#000" stroke="#000" stroke-width="0.65" xml:space="preserve">= -0.5 [V]</text></g>
<g transform="translate(873.57,617.20) scale(1.1144,1)"><text x="0" y="0" font-family="'Liberation Serif', serif" font-weight="bold" font-style="normal" font-size="28.50" fill="#000" stroke="#000" stroke-width="0.65" xml:space="preserve">gm = 0.4 [mS/mm]</text></g>
<g transform="translate(872.71,652.60) scale(1.1924,1)"><text x="0" y="0" font-family="'Liberation Serif', serif" font-weight="bold" font-style="normal" font-size="26.80" fill="#f50000" stroke="#f50000" stroke-width="0.65" xml:space="preserve">Simulation</text></g>
<g transform="translate(796.49,941.68) scale(1.0800,1)"><text x="0" y="0" font-family="'Liberation Sans', sans-serif" font-weight="bold" font-style="normal" font-size="26.50" fill="#000" stroke="#000" stroke-width="0.40" xml:space="preserve">0.0</text></g>
<g transform="translate(796.12,866.53) scale(1.0800,1)"><text x="0" y="0" font-family="'Liberation Sans', sans-serif" font-weight="bold" font-style="normal" font-size="26.50" fill="#000" stroke="#000" stroke-width="0.40" xml:space="preserve">0.1</text></g>
<g transform="translate(796.46,791.38) scale(1.0800,1)"><text x="0" y="0" font-family="'Liberation Sans', sans-serif" font-weight="bold" font-style="normal" font-size="26.50" fill="#000" stroke="#000" stroke-width="0.40" xml:space="preserve">0.2</text></g>
<g transform="translate(796.35,716.23) scale(1.0800,1)"><text x="0" y="0" font-family="'Liberation Sans', sans-serif" font-weight="bold" font-style="normal" font-size="26.50" fill="#000" stroke="#000" stroke-width="0.40" xml:space="preserve">0.3</text></g>
<g transform="translate(795.46,641.08) scale(1.0800,1)"><text x="0" y="0" font-family="'Liberation Sans', sans-serif" font-weight="bold" font-style="normal" font-size="26.50" fill="#000" stroke="#000" stroke-width="0.40" xml:space="preserve">0.4</text></g>
<g transform="translate(880.88,1008.20) scale(1.0200,1)"><text x="0" y="0" font-family="'Liberation Sans', sans-serif" font-weight="bold" font-style="normal" font-size="27.00" fill="#000" stroke="#000" stroke-width="0.40" xml:space="preserve">10</text></g>
<g transform="translate(979.86,1008.20) scale(1.0200,1)"><text x="0" y="0" font-family="'Liberation Sans', sans-serif" font-weight="bold" font-style="normal" font-size="27.00" fill="#000" stroke="#000" stroke-width="0.40" xml:space="preserve">0</text></g>
<g transform="translate(1058.63,1008.20) scale(1.0200,1)"><text x="0" y="0" font-family="'Liberation Sans', sans-serif" font-weight="bold" font-style="normal" font-size="27.00" fill="#000" stroke="#000" stroke-width="0.40" xml:space="preserve">-10</text></g>
<g transform="translate(1149.63,1008.20) scale(1.0200,1)"><text x="0" y="0" font-family="'Liberation Sans', sans-serif" font-weight="bold" font-style="normal" font-size="27.00" fill="#000" stroke="#000" stroke-width="0.40" xml:space="preserve">-20</text></g>
<g transform="translate(1240.63,1008.20) scale(1.0200,1)"><text x="0" y="0" font-family="'Liberation Sans', sans-serif" font-weight="bold" font-style="normal" font-size="27.00" fill="#000" stroke="#000" stroke-width="0.40" xml:space="preserve">-30</text></g>
<g transform="translate(1331.63,1008.20) scale(1.0200,1)"><text x="0" y="0" font-family="'Liberation Sans', sans-serif" font-weight="bold" font-style="normal" font-size="27.00" fill="#000" stroke="#000" stroke-width="0.40" xml:space="preserve">-40</text></g>
<g transform="translate(1041.21,1038.40) scale(0.9347,1)"><text x="0" y="0" font-family="'Liberation Sans', sans-serif" font-weight="bold" font-style="normal" font-size="29.00" fill="#000" stroke="#000" stroke-width="0.40" xml:space="preserve">V</text></g>
<g transform="translate(1061.68,1044.80) scale(1.0436,1)"><text x="0" y="0" font-family="'Liberation Sans', sans-serif" font-weight="bold" font-style="normal" font-size="28.50" fill="#000" stroke="#000" stroke-width="0.40" xml:space="preserve">GS</text></g>
<g transform="translate(1116.12,1038.40) scale(1.0336,1)"><text x="0" y="0" font-family="'Liberation Sans', sans-serif" font-weight="bold" font-style="normal" font-size="29.00" fill="#000" stroke="#000" stroke-width="0.40" xml:space="preserve">[V]</text></g>
<g transform="translate(778.00,893.81) rotate(-90) scale(1.0328,1)"><text x="0" y="0" font-family="'Liberation Sans', sans-serif" font-weight="bold" font-style="normal" font-size="28.50" fill="#000" stroke="#000" stroke-width="0.40" xml:space="preserve">gm [mS/mm]</text></g>
</svg></body></html>
